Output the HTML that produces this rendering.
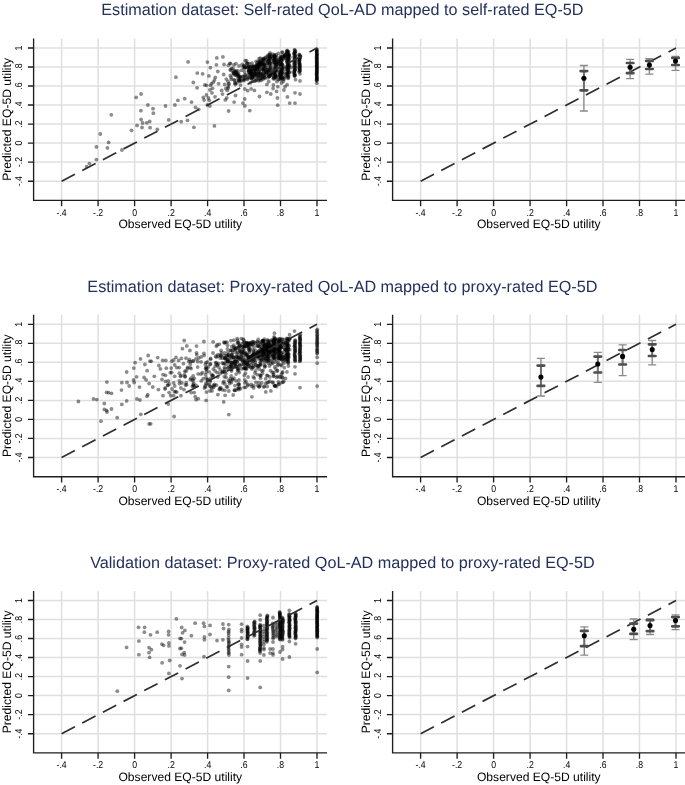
<!DOCTYPE html><html><head><meta charset="utf-8"><style>html,body{margin:0;padding:0;background:#fff;}svg{display:block;}text{font-family:"Liberation Sans",sans-serif;text-rendering:geometricPrecision;}</style></head><body>
<svg width="685" height="785" viewBox="0 0 685 785">
<rect width="685" height="785" fill="#fff"/>
<g style="will-change:transform">
<text x="342.4" y="14.7" font-size="16.2" fill="#25315d" text-anchor="middle">Estimation dataset: Self-rated QoL-AD mapped to self-rated EQ-5D</text>
<path d="M33.6 181.2H327.0M33.6 162.1H327.0M33.6 143.1H327.0M33.6 124.1H327.0M33.6 105.0H327.0M33.6 86.0H327.0M33.6 67.0H327.0M33.6 48.0H327.0M61.6 38.4V200.4M98.1 38.4V200.4M134.6 38.4V200.4M171.1 38.4V200.4M207.6 38.4V200.4M244.0 38.4V200.4M280.5 38.4V200.4M317.0 38.4V200.4" stroke="#dfdfdf" stroke-width="1.5" fill="none"/>
<path d="M33.6 38.4V200.4H327.0" stroke="#1e1e1e" stroke-width="1.35" fill="none"/>
<path d="M27.9 181.2H33.6M61.6 200.4V206.3M27.9 162.1H33.6M98.1 200.4V206.3M27.9 143.1H33.6M134.6 200.4V206.3M27.9 124.1H33.6M171.1 200.4V206.3M27.9 105.0H33.6M207.6 200.4V206.3M27.9 86.0H33.6M244.0 200.4V206.3M27.9 67.0H33.6M280.5 200.4V206.3M27.9 48.0H33.6M317.0 200.4V206.3" stroke="#1e1e1e" stroke-width="1.35" fill="none"/>
<text transform="translate(61.6 215.8) scale(0.87 1)" font-size="10.0" fill="#000" text-anchor="middle">-.4</text>
<text transform="translate(98.1 215.8) scale(0.87 1)" font-size="10.0" fill="#000" text-anchor="middle">-.2</text>
<text transform="translate(134.6 215.8) scale(0.87 1)" font-size="10.0" fill="#000" text-anchor="middle">0</text>
<text transform="translate(171.1 215.8) scale(0.87 1)" font-size="10.0" fill="#000" text-anchor="middle">.2</text>
<text transform="translate(207.6 215.8) scale(0.87 1)" font-size="10.0" fill="#000" text-anchor="middle">.4</text>
<text transform="translate(244.0 215.8) scale(0.87 1)" font-size="10.0" fill="#000" text-anchor="middle">.6</text>
<text transform="translate(280.5 215.8) scale(0.87 1)" font-size="10.0" fill="#000" text-anchor="middle">.8</text>
<text transform="translate(317.0 215.8) scale(0.87 1)" font-size="10.0" fill="#000" text-anchor="middle">1</text>
<text transform="translate(22.0 181.2) rotate(-90) scale(0.87 1)" font-size="10.0" fill="#000" text-anchor="middle">-.4</text>
<text transform="translate(22.0 162.1) rotate(-90) scale(0.87 1)" font-size="10.0" fill="#000" text-anchor="middle">-.2</text>
<text transform="translate(22.0 143.1) rotate(-90) scale(0.87 1)" font-size="10.0" fill="#000" text-anchor="middle">0</text>
<text transform="translate(22.0 124.1) rotate(-90) scale(0.87 1)" font-size="10.0" fill="#000" text-anchor="middle">.2</text>
<text transform="translate(22.0 105.0) rotate(-90) scale(0.87 1)" font-size="10.0" fill="#000" text-anchor="middle">.4</text>
<text transform="translate(22.0 86.0) rotate(-90) scale(0.87 1)" font-size="10.0" fill="#000" text-anchor="middle">.6</text>
<text transform="translate(22.0 67.0) rotate(-90) scale(0.87 1)" font-size="10.0" fill="#000" text-anchor="middle">.8</text>
<text transform="translate(22.0 48.0) rotate(-90) scale(0.87 1)" font-size="10.0" fill="#000" text-anchor="middle">1</text>
<text x="180.3" y="228.2" font-size="12.1" fill="#000" text-anchor="middle">Observed EQ-5D utility</text>
<text transform="translate(10.5 119.4) rotate(-90)" font-size="12.15" fill="#000" text-anchor="middle">Predicted EQ-5D utility</text>
<g fill="#000" fill-opacity="0.45">
<circle cx="188.1" cy="61.9" r="1.9"/><circle cx="197.3" cy="73.1" r="1.9"/><circle cx="175.9" cy="77.2" r="1.9"/><circle cx="193.3" cy="82.5" r="1.9"/><circle cx="197.1" cy="87.8" r="1.9"/><circle cx="141.1" cy="94.0" r="1.9"/><circle cx="136.2" cy="97.4" r="1.9"/><circle cx="177.9" cy="100.3" r="1.9"/><circle cx="184.7" cy="98.7" r="1.9"/><circle cx="191.6" cy="102.1" r="1.9"/><circle cx="147.9" cy="105.0" r="1.9"/><circle cx="165.5" cy="106.0" r="1.9"/><circle cx="174.9" cy="105.0" r="1.9"/><circle cx="153.0" cy="108.7" r="1.9"/><circle cx="195.5" cy="107.4" r="1.9"/><circle cx="140.9" cy="110.7" r="1.9"/><circle cx="153.4" cy="113.2" r="1.9"/><circle cx="111.3" cy="114.8" r="1.9"/><circle cx="141.1" cy="119.5" r="1.9"/><circle cx="168.7" cy="119.9" r="1.9"/><circle cx="142.6" cy="123.0" r="1.9"/><circle cx="146.7" cy="122.8" r="1.9"/><circle cx="149.7" cy="121.5" r="1.9"/><circle cx="181.2" cy="121.7" r="1.9"/><circle cx="187.5" cy="120.3" r="1.9"/><circle cx="137.0" cy="125.4" r="1.9"/><circle cx="142.0" cy="127.5" r="1.9"/><circle cx="150.1" cy="127.7" r="1.9"/><circle cx="157.3" cy="129.3" r="1.9"/><circle cx="193.9" cy="127.3" r="1.9"/><circle cx="131.5" cy="130.3" r="1.9"/><circle cx="100.3" cy="134.0" r="1.9"/><circle cx="108.6" cy="142.4" r="1.9"/><circle cx="96.4" cy="146.9" r="1.9"/><circle cx="107.4" cy="147.9" r="1.9"/><circle cx="121.9" cy="150.0" r="1.9"/><circle cx="96.4" cy="159.6" r="1.9"/><circle cx="89.4" cy="163.6" r="1.9"/><circle cx="86.6" cy="166.7" r="1.9"/><circle cx="216.8" cy="57.9" r="1.9"/><circle cx="222.9" cy="56.9" r="1.9"/><circle cx="207.4" cy="62.1" r="1.9"/><circle cx="216.4" cy="64.8" r="1.9"/><circle cx="224.0" cy="64.5" r="1.9"/><circle cx="228.3" cy="65.3" r="1.9"/><circle cx="210.4" cy="67.7" r="1.9"/><circle cx="202.6" cy="73.8" r="1.9"/><circle cx="217.8" cy="71.5" r="1.9"/><circle cx="208.9" cy="75.9" r="1.9"/><circle cx="215.3" cy="77.4" r="1.9"/><circle cx="214.5" cy="80.1" r="1.9"/><circle cx="213.3" cy="82.2" r="1.9"/><circle cx="211.5" cy="83.7" r="1.9"/><circle cx="223.7" cy="74.5" r="1.9"/><circle cx="226.3" cy="79.1" r="1.9"/><circle cx="204.8" cy="84.9" r="1.9"/><circle cx="206.4" cy="85.3" r="1.9"/><circle cx="210.4" cy="85.3" r="1.9"/><circle cx="218.6" cy="83.7" r="1.9"/><circle cx="224.7" cy="84.5" r="1.9"/><circle cx="212.5" cy="88.3" r="1.9"/><circle cx="209.9" cy="89.9" r="1.9"/><circle cx="212.0" cy="92.9" r="1.9"/><circle cx="221.7" cy="90.4" r="1.9"/><circle cx="225.8" cy="88.6" r="1.9"/><circle cx="228.3" cy="88.0" r="1.9"/><circle cx="227.3" cy="90.4" r="1.9"/><circle cx="222.5" cy="94.1" r="1.9"/><circle cx="206.4" cy="95.0" r="1.9"/><circle cx="203.3" cy="97.5" r="1.9"/><circle cx="208.4" cy="98.0" r="1.9"/><circle cx="204.1" cy="100.1" r="1.9"/><circle cx="209.2" cy="100.3" r="1.9"/><circle cx="215.0" cy="96.8" r="1.9"/><circle cx="225.3" cy="99.9" r="1.9"/><circle cx="226.8" cy="98.0" r="1.9"/><circle cx="235.5" cy="95.5" r="1.9"/><circle cx="234.1" cy="102.1" r="1.9"/><circle cx="244.7" cy="99.0" r="1.9"/><circle cx="242.9" cy="103.1" r="1.9"/><circle cx="244.9" cy="105.9" r="1.9"/><circle cx="198.7" cy="109.3" r="1.9"/><circle cx="209.9" cy="106.0" r="1.9"/><circle cx="228.6" cy="111.0" r="1.9"/><circle cx="249.8" cy="110.6" r="1.9"/><circle cx="259.5" cy="96.5" r="1.9"/><circle cx="244.9" cy="89.0" r="1.9"/><circle cx="247.7" cy="90.7" r="1.9"/><circle cx="251.1" cy="88.8" r="1.9"/><circle cx="254.4" cy="90.4" r="1.9"/><circle cx="245.2" cy="60.7" r="1.9"/><circle cx="266.9" cy="92.3" r="1.9"/><circle cx="270.8" cy="94.0" r="1.9"/><circle cx="273.1" cy="88.5" r="1.9"/><circle cx="276.6" cy="91.4" r="1.9"/><circle cx="277.8" cy="86.7" r="1.9"/><circle cx="277.4" cy="98.0" r="1.9"/><circle cx="277.7" cy="105.2" r="1.9"/><circle cx="283.9" cy="90.0" r="1.9"/><circle cx="285.0" cy="86.7" r="1.9"/><circle cx="287.1" cy="84.7" r="1.9"/><circle cx="287.4" cy="96.9" r="1.9"/><circle cx="289.7" cy="103.1" r="1.9"/><circle cx="295.0" cy="103.1" r="1.9"/><circle cx="295.0" cy="92.8" r="1.9"/><circle cx="300.0" cy="94.0" r="1.9"/><circle cx="300.0" cy="80.9" r="1.9"/><circle cx="300.0" cy="73.9" r="1.9"/><circle cx="295.5" cy="79.7" r="1.9"/><circle cx="266.9" cy="84.4" r="1.9"/><circle cx="268.7" cy="81.5" r="1.9"/><circle cx="273.4" cy="85.0" r="1.9"/><circle cx="276.9" cy="81.5" r="1.9"/><circle cx="281.5" cy="83.0" r="1.9"/><circle cx="283.3" cy="81.5" r="1.9"/><circle cx="316.8" cy="83.2" r="1.9"/><circle cx="214.4" cy="125.9" r="1.9"/><circle cx="207.4" cy="104.9" r="1.9"/><circle cx="316.7" cy="49.1" r="1.9"/><circle cx="316.8" cy="49.7" r="1.9"/><circle cx="316.8" cy="50.4" r="1.9"/><circle cx="316.7" cy="51.1" r="1.9"/><circle cx="316.7" cy="51.7" r="1.9"/><circle cx="316.7" cy="52.1" r="1.9"/><circle cx="316.8" cy="53.1" r="1.9"/><circle cx="316.7" cy="53.4" r="1.9"/><circle cx="316.8" cy="54.4" r="1.9"/><circle cx="316.8" cy="54.7" r="1.9"/><circle cx="316.9" cy="55.1" r="1.9"/><circle cx="316.9" cy="55.9" r="1.9"/><circle cx="316.7" cy="56.4" r="1.9"/><circle cx="316.7" cy="57.4" r="1.9"/><circle cx="316.7" cy="57.9" r="1.9"/><circle cx="316.8" cy="58.3" r="1.9"/><circle cx="316.8" cy="58.8" r="1.9"/><circle cx="316.7" cy="59.5" r="1.9"/><circle cx="316.9" cy="60.2" r="1.9"/><circle cx="316.7" cy="60.9" r="1.9"/><circle cx="316.8" cy="61.3" r="1.9"/><circle cx="316.9" cy="62.2" r="1.9"/><circle cx="316.7" cy="62.7" r="1.9"/><circle cx="316.8" cy="63.5" r="1.9"/><circle cx="316.9" cy="63.8" r="1.9"/><circle cx="316.9" cy="64.3" r="1.9"/><circle cx="316.8" cy="65.3" r="1.9"/><circle cx="316.7" cy="65.7" r="1.9"/><circle cx="316.7" cy="66.4" r="1.9"/><circle cx="316.9" cy="67.0" r="1.9"/><circle cx="316.9" cy="67.4" r="1.9"/><circle cx="316.9" cy="68.2" r="1.9"/><circle cx="316.8" cy="68.7" r="1.9"/><circle cx="316.9" cy="69.6" r="1.9"/><circle cx="316.8" cy="70.1" r="1.9"/><circle cx="316.7" cy="70.7" r="1.9"/><circle cx="316.8" cy="71.5" r="1.9"/><circle cx="316.9" cy="71.7" r="1.9"/><circle cx="316.8" cy="72.5" r="1.9"/><circle cx="316.7" cy="73.0" r="1.9"/><circle cx="316.7" cy="73.4" r="1.9"/><circle cx="316.7" cy="74.4" r="1.9"/><circle cx="316.7" cy="74.7" r="1.9"/><circle cx="316.8" cy="75.7" r="1.9"/><circle cx="316.7" cy="76.0" r="1.9"/><circle cx="316.8" cy="76.9" r="1.9"/><circle cx="316.9" cy="77.5" r="1.9"/><circle cx="316.7" cy="77.8" r="1.9"/><circle cx="316.8" cy="78.7" r="1.9"/><circle cx="316.9" cy="78.9" r="1.9"/><circle cx="316.7" cy="79.5" r="1.9"/><circle cx="316.7" cy="80.3" r="1.9"/><circle cx="316.8" cy="80.8" r="1.9"/><circle cx="299.1" cy="54.3" r="1.9"/><circle cx="299.5" cy="54.9" r="1.9"/><circle cx="300.2" cy="55.6" r="1.9"/><circle cx="299.7" cy="56.2" r="1.9"/><circle cx="299.9" cy="56.5" r="1.9"/><circle cx="300.2" cy="57.5" r="1.9"/><circle cx="300.1" cy="58.1" r="1.9"/><circle cx="299.6" cy="58.5" r="1.9"/><circle cx="299.2" cy="59.2" r="1.9"/><circle cx="299.2" cy="59.5" r="1.9"/><circle cx="299.4" cy="60.2" r="1.9"/><circle cx="299.5" cy="60.7" r="1.9"/><circle cx="299.1" cy="61.4" r="1.9"/><circle cx="299.2" cy="62.1" r="1.9"/><circle cx="299.1" cy="63.0" r="1.9"/><circle cx="299.8" cy="63.2" r="1.9"/><circle cx="299.4" cy="63.9" r="1.9"/><circle cx="299.5" cy="64.4" r="1.9"/><circle cx="300.1" cy="65.5" r="1.9"/><circle cx="299.7" cy="65.8" r="1.9"/><circle cx="299.2" cy="66.2" r="1.9"/><circle cx="299.5" cy="66.9" r="1.9"/><circle cx="300.1" cy="67.4" r="1.9"/><circle cx="299.1" cy="68.5" r="1.9"/><circle cx="299.7" cy="68.7" r="1.9"/><circle cx="299.8" cy="69.2" r="1.9"/><circle cx="299.7" cy="70.4" r="1.9"/><circle cx="300.1" cy="70.8" r="1.9"/><circle cx="299.4" cy="71.2" r="1.9"/><circle cx="299.3" cy="72.1" r="1.9"/><circle cx="294.8" cy="49.9" r="1.9"/><circle cx="294.4" cy="50.1" r="1.9"/><circle cx="295.2" cy="51.2" r="1.9"/><circle cx="295.3" cy="51.7" r="1.9"/><circle cx="295.2" cy="52.3" r="1.9"/><circle cx="294.3" cy="52.8" r="1.9"/><circle cx="294.5" cy="53.1" r="1.9"/><circle cx="293.9" cy="53.8" r="1.9"/><circle cx="294.3" cy="54.7" r="1.9"/><circle cx="295.4" cy="55.2" r="1.9"/><circle cx="295.4" cy="56.1" r="1.9"/><circle cx="295.4" cy="56.3" r="1.9"/><circle cx="294.3" cy="56.8" r="1.9"/><circle cx="294.2" cy="57.4" r="1.9"/><circle cx="294.9" cy="58.5" r="1.9"/><circle cx="295.2" cy="58.8" r="1.9"/><circle cx="294.9" cy="59.6" r="1.9"/><circle cx="294.0" cy="60.2" r="1.9"/><circle cx="295.4" cy="60.8" r="1.9"/><circle cx="295.1" cy="61.3" r="1.9"/><circle cx="294.2" cy="62.1" r="1.9"/><circle cx="294.4" cy="62.7" r="1.9"/><circle cx="295.5" cy="63.0" r="1.9"/><circle cx="294.5" cy="64.0" r="1.9"/><circle cx="295.1" cy="64.1" r="1.9"/><circle cx="294.1" cy="64.7" r="1.9"/><circle cx="295.3" cy="65.7" r="1.9"/><circle cx="294.1" cy="66.3" r="1.9"/><circle cx="295.5" cy="66.8" r="1.9"/><circle cx="294.5" cy="67.4" r="1.9"/><circle cx="294.1" cy="67.7" r="1.9"/><circle cx="295.5" cy="68.7" r="1.9"/><circle cx="294.7" cy="69.5" r="1.9"/><circle cx="294.6" cy="70.0" r="1.9"/><circle cx="295.2" cy="70.2" r="1.9"/><circle cx="294.3" cy="70.9" r="1.9"/><circle cx="294.3" cy="71.7" r="1.9"/><circle cx="294.3" cy="72.2" r="1.9"/><circle cx="294.1" cy="73.1" r="1.9"/><circle cx="294.5" cy="73.4" r="1.9"/><circle cx="294.8" cy="74.3" r="1.9"/><circle cx="294.6" cy="74.9" r="1.9"/><circle cx="294.7" cy="75.3" r="1.9"/><circle cx="294.7" cy="75.6" r="1.9"/><circle cx="294.6" cy="76.3" r="1.9"/><circle cx="287.1" cy="50.5" r="1.9"/><circle cx="287.4" cy="50.9" r="1.9"/><circle cx="288.6" cy="51.6" r="1.9"/><circle cx="287.8" cy="52.1" r="1.9"/><circle cx="288.2" cy="52.9" r="1.9"/><circle cx="287.3" cy="53.4" r="1.9"/><circle cx="287.6" cy="53.8" r="1.9"/><circle cx="288.6" cy="54.6" r="1.9"/><circle cx="288.2" cy="55.3" r="1.9"/><circle cx="288.9" cy="55.7" r="1.9"/><circle cx="288.3" cy="56.4" r="1.9"/><circle cx="288.1" cy="57.1" r="1.9"/><circle cx="288.0" cy="57.6" r="1.9"/><circle cx="288.1" cy="58.5" r="1.9"/><circle cx="288.5" cy="59.1" r="1.9"/><circle cx="289.0" cy="59.3" r="1.9"/><circle cx="288.2" cy="60.3" r="1.9"/><circle cx="288.8" cy="60.4" r="1.9"/><circle cx="287.3" cy="61.2" r="1.9"/><circle cx="287.2" cy="61.7" r="1.9"/><circle cx="287.2" cy="62.6" r="1.9"/><circle cx="288.7" cy="63.3" r="1.9"/><circle cx="287.4" cy="63.8" r="1.9"/><circle cx="288.4" cy="64.1" r="1.9"/><circle cx="288.9" cy="65.2" r="1.9"/><circle cx="287.5" cy="65.8" r="1.9"/><circle cx="287.9" cy="66.1" r="1.9"/><circle cx="289.1" cy="66.9" r="1.9"/><circle cx="287.4" cy="67.3" r="1.9"/><circle cx="288.1" cy="67.9" r="1.9"/><circle cx="287.5" cy="68.5" r="1.9"/><circle cx="288.5" cy="68.9" r="1.9"/><circle cx="288.2" cy="69.7" r="1.9"/><circle cx="287.1" cy="70.3" r="1.9"/><circle cx="288.3" cy="71.0" r="1.9"/><circle cx="287.2" cy="71.9" r="1.9"/><circle cx="288.7" cy="72.5" r="1.9"/><circle cx="287.3" cy="72.7" r="1.9"/><circle cx="287.2" cy="73.6" r="1.9"/><circle cx="287.6" cy="73.8" r="1.9"/><circle cx="287.9" cy="74.9" r="1.9"/><circle cx="288.7" cy="75.1" r="1.9"/><circle cx="287.4" cy="76.1" r="1.9"/><circle cx="288.2" cy="76.6" r="1.9"/><circle cx="287.3" cy="76.8" r="1.9"/><circle cx="288.5" cy="77.7" r="1.9"/><circle cx="280.4" cy="56.4" r="1.9"/><circle cx="281.7" cy="57.0" r="1.9"/><circle cx="280.4" cy="57.7" r="1.9"/><circle cx="280.4" cy="58.5" r="1.9"/><circle cx="281.3" cy="58.9" r="1.9"/><circle cx="281.5" cy="59.9" r="1.9"/><circle cx="280.8" cy="60.2" r="1.9"/><circle cx="281.5" cy="60.9" r="1.9"/><circle cx="280.5" cy="61.6" r="1.9"/><circle cx="280.3" cy="62.3" r="1.9"/><circle cx="280.9" cy="63.1" r="1.9"/><circle cx="282.0" cy="63.8" r="1.9"/><circle cx="281.4" cy="64.5" r="1.9"/><circle cx="281.0" cy="65.1" r="1.9"/><circle cx="280.8" cy="65.8" r="1.9"/><circle cx="282.0" cy="66.8" r="1.9"/><circle cx="280.7" cy="67.5" r="1.9"/><circle cx="282.4" cy="68.0" r="1.9"/><circle cx="282.2" cy="68.9" r="1.9"/><circle cx="281.4" cy="69.8" r="1.9"/><circle cx="281.1" cy="70.4" r="1.9"/><circle cx="281.9" cy="71.4" r="1.9"/><circle cx="281.0" cy="72.0" r="1.9"/><circle cx="281.9" cy="72.6" r="1.9"/><circle cx="281.2" cy="73.1" r="1.9"/><circle cx="280.3" cy="73.7" r="1.9"/><circle cx="280.4" cy="74.8" r="1.9"/><circle cx="280.8" cy="75.1" r="1.9"/><circle cx="280.4" cy="76.3" r="1.9"/><circle cx="282.3" cy="76.9" r="1.9"/><circle cx="280.9" cy="77.3" r="1.9"/><circle cx="280.9" cy="78.2" r="1.9"/><circle cx="280.6" cy="78.9" r="1.9"/><circle cx="274.6" cy="54.6" r="1.9"/><circle cx="276.3" cy="55.0" r="1.9"/><circle cx="274.6" cy="56.0" r="1.9"/><circle cx="274.7" cy="56.3" r="1.9"/><circle cx="274.0" cy="57.0" r="1.9"/><circle cx="275.1" cy="57.8" r="1.9"/><circle cx="274.5" cy="58.5" r="1.9"/><circle cx="274.0" cy="59.1" r="1.9"/><circle cx="274.2" cy="59.9" r="1.9"/><circle cx="274.1" cy="60.3" r="1.9"/><circle cx="274.7" cy="61.2" r="1.9"/><circle cx="275.4" cy="62.0" r="1.9"/><circle cx="275.8" cy="62.8" r="1.9"/><circle cx="275.7" cy="63.7" r="1.9"/><circle cx="274.9" cy="64.0" r="1.9"/><circle cx="276.4" cy="64.6" r="1.9"/><circle cx="275.7" cy="65.6" r="1.9"/><circle cx="274.1" cy="66.4" r="1.9"/><circle cx="276.1" cy="67.0" r="1.9"/><circle cx="275.8" cy="67.8" r="1.9"/><circle cx="274.3" cy="68.4" r="1.9"/><circle cx="275.2" cy="69.3" r="1.9"/><circle cx="275.9" cy="70.0" r="1.9"/><circle cx="275.4" cy="70.7" r="1.9"/><circle cx="275.6" cy="71.3" r="1.9"/><circle cx="274.6" cy="71.6" r="1.9"/><circle cx="274.3" cy="72.5" r="1.9"/><circle cx="274.3" cy="73.5" r="1.9"/><circle cx="275.3" cy="74.1" r="1.9"/><circle cx="275.5" cy="74.8" r="1.9"/><circle cx="275.2" cy="75.1" r="1.9"/><circle cx="275.9" cy="76.2" r="1.9"/><circle cx="275.2" cy="76.8" r="1.9"/><circle cx="275.6" cy="77.2" r="1.9"/><circle cx="275.8" cy="78.0" r="1.9"/><circle cx="274.2" cy="78.8" r="1.9"/><circle cx="270.0" cy="53.0" r="1.9"/><circle cx="270.1" cy="54.4" r="1.9"/><circle cx="269.4" cy="54.9" r="1.9"/><circle cx="269.3" cy="56.0" r="1.9"/><circle cx="270.1" cy="56.9" r="1.9"/><circle cx="269.8" cy="57.5" r="1.9"/><circle cx="268.4" cy="58.5" r="1.9"/><circle cx="270.1" cy="59.4" r="1.9"/><circle cx="269.6" cy="60.2" r="1.9"/><circle cx="268.2" cy="61.2" r="1.9"/><circle cx="269.9" cy="62.4" r="1.9"/><circle cx="269.9" cy="63.1" r="1.9"/><circle cx="269.4" cy="64.1" r="1.9"/><circle cx="269.3" cy="64.8" r="1.9"/><circle cx="270.5" cy="65.7" r="1.9"/><circle cx="270.7" cy="67.1" r="1.9"/><circle cx="268.0" cy="67.7" r="1.9"/><circle cx="270.3" cy="68.9" r="1.9"/><circle cx="269.3" cy="69.4" r="1.9"/><circle cx="268.6" cy="70.7" r="1.9"/><circle cx="268.6" cy="71.4" r="1.9"/><circle cx="268.4" cy="72.3" r="1.9"/><circle cx="270.7" cy="72.9" r="1.9"/><circle cx="270.3" cy="74.1" r="1.9"/><circle cx="270.5" cy="75.1" r="1.9"/><circle cx="268.6" cy="76.1" r="1.9"/><circle cx="269.4" cy="76.5" r="1.9"/><circle cx="268.0" cy="77.7" r="1.9"/><circle cx="263.3" cy="60.1" r="1.9"/><circle cx="262.4" cy="61.6" r="1.9"/><circle cx="262.9" cy="63.3" r="1.9"/><circle cx="261.9" cy="64.7" r="1.9"/><circle cx="264.6" cy="65.8" r="1.9"/><circle cx="264.9" cy="67.6" r="1.9"/><circle cx="264.8" cy="68.8" r="1.9"/><circle cx="263.1" cy="70.3" r="1.9"/><circle cx="265.1" cy="71.9" r="1.9"/><circle cx="263.1" cy="73.3" r="1.9"/><circle cx="262.8" cy="74.5" r="1.9"/><circle cx="262.2" cy="76.4" r="1.9"/><circle cx="262.8" cy="78.0" r="1.9"/><circle cx="234.0" cy="73.7" r="1.9"/><circle cx="236.1" cy="72.7" r="1.9"/><circle cx="235.0" cy="83.4" r="1.9"/><circle cx="239.1" cy="81.4" r="1.9"/><circle cx="237.0" cy="82.8" r="1.9"/><circle cx="239.5" cy="77.7" r="1.9"/><circle cx="237.9" cy="76.3" r="1.9"/><circle cx="238.0" cy="79.0" r="1.9"/><circle cx="234.3" cy="70.7" r="1.9"/><circle cx="235.8" cy="74.8" r="1.9"/><circle cx="234.4" cy="80.3" r="1.9"/><circle cx="237.2" cy="74.2" r="1.9"/><circle cx="236.5" cy="75.5" r="1.9"/><circle cx="233.3" cy="72.3" r="1.9"/><circle cx="236.0" cy="73.1" r="1.9"/><circle cx="235.6" cy="72.0" r="1.9"/><circle cx="234.7" cy="71.3" r="1.9"/><circle cx="233.9" cy="73.6" r="1.9"/><circle cx="251.8" cy="77.2" r="1.9"/><circle cx="253.7" cy="69.6" r="1.9"/><circle cx="250.1" cy="71.4" r="1.9"/><circle cx="249.6" cy="68.4" r="1.9"/><circle cx="246.2" cy="67.4" r="1.9"/><circle cx="251.0" cy="73.1" r="1.9"/><circle cx="255.0" cy="66.5" r="1.9"/><circle cx="248.5" cy="67.0" r="1.9"/><circle cx="249.9" cy="70.1" r="1.9"/><circle cx="255.4" cy="70.6" r="1.9"/><circle cx="249.8" cy="77.8" r="1.9"/><circle cx="254.6" cy="76.7" r="1.9"/><circle cx="251.2" cy="73.9" r="1.9"/><circle cx="255.9" cy="74.5" r="1.9"/><circle cx="252.6" cy="75.2" r="1.9"/><circle cx="250.5" cy="71.8" r="1.9"/><circle cx="248.1" cy="77.7" r="1.9"/><circle cx="252.6" cy="67.9" r="1.9"/><circle cx="246.9" cy="67.0" r="1.9"/><circle cx="252.5" cy="74.2" r="1.9"/><circle cx="251.3" cy="72.3" r="1.9"/><circle cx="249.8" cy="66.6" r="1.9"/><circle cx="252.1" cy="63.2" r="1.9"/><circle cx="248.8" cy="70.4" r="1.9"/><circle cx="256.0" cy="73.3" r="1.9"/><circle cx="255.2" cy="70.6" r="1.9"/><circle cx="248.1" cy="67.0" r="1.9"/><circle cx="251.0" cy="73.8" r="1.9"/><circle cx="250.1" cy="67.1" r="1.9"/><circle cx="252.8" cy="77.8" r="1.9"/><circle cx="249.2" cy="69.7" r="1.9"/><circle cx="253.0" cy="66.2" r="1.9"/><circle cx="254.3" cy="74.8" r="1.9"/><circle cx="251.1" cy="66.3" r="1.9"/><circle cx="254.5" cy="66.7" r="1.9"/><circle cx="258.7" cy="72.2" r="1.9"/><circle cx="259.5" cy="76.0" r="1.9"/><circle cx="261.9" cy="60.7" r="1.9"/><circle cx="258.7" cy="65.3" r="1.9"/><circle cx="264.0" cy="76.0" r="1.9"/><circle cx="257.8" cy="64.9" r="1.9"/><circle cx="256.7" cy="64.9" r="1.9"/><circle cx="267.2" cy="63.6" r="1.9"/><circle cx="264.0" cy="64.6" r="1.9"/><circle cx="260.5" cy="63.6" r="1.9"/><circle cx="259.4" cy="64.0" r="1.9"/><circle cx="260.3" cy="73.4" r="1.9"/><circle cx="265.9" cy="65.6" r="1.9"/><circle cx="256.6" cy="66.5" r="1.9"/><circle cx="260.5" cy="75.4" r="1.9"/><circle cx="258.3" cy="64.3" r="1.9"/><circle cx="260.9" cy="73.2" r="1.9"/><circle cx="267.0" cy="62.1" r="1.9"/><circle cx="265.0" cy="75.0" r="1.9"/><circle cx="260.1" cy="62.4" r="1.9"/><circle cx="267.5" cy="69.3" r="1.9"/><circle cx="259.1" cy="71.3" r="1.9"/><circle cx="259.8" cy="62.5" r="1.9"/><circle cx="267.0" cy="69.7" r="1.9"/><circle cx="258.8" cy="66.5" r="1.9"/><circle cx="260.6" cy="62.0" r="1.9"/><circle cx="261.2" cy="66.9" r="1.9"/><circle cx="265.6" cy="71.8" r="1.9"/><circle cx="265.9" cy="72.5" r="1.9"/><circle cx="263.3" cy="63.6" r="1.9"/><circle cx="259.8" cy="64.2" r="1.9"/><circle cx="258.4" cy="72.1" r="1.9"/><circle cx="256.4" cy="68.1" r="1.9"/><circle cx="259.2" cy="58.7" r="1.9"/><circle cx="257.2" cy="67.0" r="1.9"/><circle cx="264.5" cy="65.9" r="1.9"/><circle cx="258.8" cy="65.3" r="1.9"/><circle cx="263.4" cy="70.5" r="1.9"/><circle cx="265.0" cy="73.9" r="1.9"/><circle cx="264.0" cy="59.4" r="1.9"/><circle cx="252.9" cy="66.2" r="1.9"/><circle cx="244.1" cy="68.4" r="1.9"/><circle cx="249.6" cy="63.6" r="1.9"/><circle cx="233.9" cy="64.9" r="1.9"/><circle cx="244.5" cy="67.1" r="1.9"/><circle cx="242.2" cy="64.5" r="1.9"/><circle cx="251.9" cy="76.3" r="1.9"/><circle cx="241.2" cy="80.9" r="1.9"/><circle cx="229.8" cy="63.3" r="1.9"/><circle cx="257.1" cy="74.3" r="1.9"/><circle cx="255.8" cy="68.4" r="1.9"/><circle cx="253.7" cy="70.6" r="1.9"/><circle cx="234.3" cy="79.8" r="1.9"/><circle cx="245.1" cy="75.4" r="1.9"/><circle cx="233.0" cy="68.3" r="1.9"/><circle cx="230.5" cy="63.7" r="1.9"/><circle cx="234.2" cy="74.8" r="1.9"/><circle cx="246.9" cy="63.7" r="1.9"/><circle cx="247.7" cy="63.2" r="1.9"/><circle cx="236.0" cy="63.7" r="1.9"/><circle cx="251.4" cy="73.3" r="1.9"/><circle cx="238.6" cy="73.4" r="1.9"/><circle cx="246.5" cy="60.6" r="1.9"/><circle cx="231.2" cy="77.5" r="1.9"/><circle cx="239.1" cy="65.9" r="1.9"/><circle cx="254.2" cy="81.3" r="1.9"/><circle cx="254.2" cy="75.1" r="1.9"/><circle cx="255.1" cy="72.7" r="1.9"/><circle cx="255.3" cy="69.2" r="1.9"/><circle cx="262.6" cy="69.3" r="1.9"/><circle cx="256.5" cy="79.1" r="1.9"/><circle cx="256.1" cy="80.1" r="1.9"/><circle cx="257.2" cy="68.6" r="1.9"/><circle cx="248.3" cy="74.8" r="1.9"/><circle cx="260.8" cy="80.6" r="1.9"/><circle cx="249.8" cy="76.0" r="1.9"/><circle cx="255.4" cy="74.1" r="1.9"/><circle cx="250.9" cy="70.5" r="1.9"/><circle cx="258.4" cy="80.8" r="1.9"/><circle cx="250.2" cy="73.8" r="1.9"/><circle cx="284.2" cy="79.0" r="1.9"/><circle cx="288.4" cy="62.2" r="1.9"/><circle cx="287.6" cy="69.0" r="1.9"/><circle cx="284.9" cy="55.6" r="1.9"/><circle cx="283.5" cy="57.4" r="1.9"/><circle cx="270.2" cy="75.5" r="1.9"/><circle cx="285.0" cy="56.3" r="1.9"/><circle cx="263.6" cy="62.6" r="1.9"/><circle cx="274.1" cy="62.1" r="1.9"/><circle cx="260.3" cy="58.2" r="1.9"/><circle cx="281.4" cy="77.0" r="1.9"/><circle cx="257.4" cy="67.3" r="1.9"/><circle cx="282.5" cy="52.1" r="1.9"/><circle cx="285.3" cy="54.4" r="1.9"/><circle cx="277.0" cy="67.0" r="1.9"/><circle cx="277.9" cy="59.9" r="1.9"/><circle cx="270.7" cy="67.9" r="1.9"/><circle cx="270.9" cy="70.1" r="1.9"/><circle cx="271.6" cy="63.7" r="1.9"/><circle cx="256.8" cy="68.9" r="1.9"/><circle cx="273.1" cy="57.8" r="1.9"/><circle cx="282.7" cy="73.6" r="1.9"/><circle cx="272.0" cy="56.2" r="1.9"/><circle cx="272.6" cy="54.1" r="1.9"/><circle cx="260.5" cy="63.5" r="1.9"/><circle cx="259.2" cy="63.8" r="1.9"/><circle cx="278.3" cy="53.4" r="1.9"/><circle cx="281.7" cy="73.6" r="1.9"/><circle cx="273.6" cy="62.0" r="1.9"/><circle cx="289.3" cy="54.9" r="1.9"/><circle cx="281.6" cy="74.6" r="1.9"/><circle cx="262.8" cy="79.5" r="1.9"/><circle cx="273.2" cy="78.7" r="1.9"/><circle cx="288.1" cy="55.8" r="1.9"/><circle cx="283.6" cy="78.0" r="1.9"/><circle cx="258.3" cy="61.2" r="1.9"/><circle cx="282.5" cy="55.6" r="1.9"/><circle cx="287.4" cy="59.0" r="1.9"/><circle cx="284.5" cy="55.2" r="1.9"/><circle cx="273.6" cy="77.7" r="1.9"/><circle cx="263.3" cy="58.6" r="1.9"/><circle cx="273.7" cy="60.3" r="1.9"/><circle cx="261.6" cy="78.2" r="1.9"/><circle cx="279.8" cy="77.0" r="1.9"/><circle cx="261.9" cy="73.8" r="1.9"/><circle cx="260.0" cy="66.4" r="1.9"/><circle cx="278.3" cy="61.4" r="1.9"/><circle cx="286.6" cy="67.1" r="1.9"/><circle cx="276.3" cy="76.6" r="1.9"/><circle cx="259.7" cy="79.8" r="1.9"/><circle cx="278.0" cy="62.4" r="1.9"/><circle cx="283.9" cy="58.7" r="1.9"/><circle cx="290.7" cy="67.7" r="1.9"/><circle cx="268.6" cy="73.2" r="1.9"/><circle cx="271.5" cy="56.1" r="1.9"/><circle cx="282.0" cy="52.4" r="1.9"/><circle cx="284.7" cy="58.4" r="1.9"/><circle cx="278.4" cy="79.5" r="1.9"/><circle cx="276.5" cy="70.2" r="1.9"/><circle cx="277.6" cy="63.5" r="1.9"/><circle cx="273.9" cy="77.0" r="1.9"/><circle cx="256.1" cy="61.3" r="1.9"/><circle cx="259.7" cy="61.4" r="1.9"/><circle cx="263.8" cy="67.9" r="1.9"/><circle cx="276.6" cy="56.9" r="1.9"/><circle cx="277.8" cy="64.8" r="1.9"/><circle cx="260.7" cy="78.2" r="1.9"/><circle cx="259.4" cy="69.5" r="1.9"/><circle cx="286.5" cy="73.7" r="1.9"/><circle cx="270.1" cy="58.7" r="1.9"/><circle cx="256.4" cy="69.7" r="1.9"/><circle cx="275.7" cy="61.2" r="1.9"/><circle cx="278.6" cy="63.9" r="1.9"/><circle cx="288.8" cy="72.3" r="1.9"/><circle cx="264.7" cy="77.2" r="1.9"/><circle cx="257.5" cy="66.4" r="1.9"/><circle cx="270.2" cy="57.9" r="1.9"/><circle cx="258.0" cy="73.6" r="1.9"/><circle cx="256.4" cy="67.0" r="1.9"/><circle cx="288.9" cy="55.1" r="1.9"/><circle cx="263.0" cy="68.6" r="1.9"/><circle cx="273.7" cy="69.6" r="1.9"/><circle cx="284.5" cy="56.1" r="1.9"/><circle cx="266.8" cy="59.7" r="1.9"/><circle cx="257.7" cy="76.8" r="1.9"/><circle cx="283.4" cy="71.7" r="1.9"/><circle cx="256.2" cy="75.5" r="1.9"/><circle cx="282.1" cy="64.5" r="1.9"/><circle cx="282.0" cy="64.1" r="1.9"/><circle cx="267.7" cy="72.7" r="1.9"/><circle cx="280.3" cy="75.5" r="1.9"/><circle cx="280.9" cy="58.7" r="1.9"/><circle cx="275.4" cy="63.6" r="1.9"/><circle cx="283.6" cy="66.2" r="1.9"/><circle cx="265.3" cy="69.6" r="1.9"/><circle cx="289.8" cy="57.3" r="1.9"/><circle cx="286.8" cy="51.4" r="1.9"/><circle cx="265.1" cy="57.8" r="1.9"/><circle cx="282.0" cy="78.4" r="1.9"/><circle cx="282.1" cy="60.5" r="1.9"/><circle cx="286.8" cy="60.5" r="1.9"/><circle cx="264.4" cy="77.3" r="1.9"/><circle cx="278.1" cy="71.1" r="1.9"/><circle cx="279.3" cy="79.4" r="1.9"/><circle cx="272.4" cy="75.4" r="1.9"/><circle cx="280.4" cy="75.9" r="1.9"/><circle cx="271.3" cy="72.0" r="1.9"/><circle cx="276.0" cy="59.9" r="1.9"/><circle cx="263.4" cy="69.1" r="1.9"/><circle cx="258.7" cy="77.4" r="1.9"/><circle cx="259.7" cy="77.9" r="1.9"/><circle cx="268.1" cy="55.1" r="1.9"/><circle cx="280.2" cy="69.4" r="1.9"/><circle cx="280.4" cy="72.4" r="1.9"/><circle cx="258.3" cy="68.1" r="1.9"/><circle cx="268.7" cy="74.7" r="1.9"/><circle cx="284.7" cy="76.8" r="1.9"/><circle cx="258.3" cy="76.2" r="1.9"/><circle cx="288.0" cy="78.4" r="1.9"/><circle cx="285.7" cy="74.5" r="1.9"/><circle cx="278.2" cy="74.9" r="1.9"/><circle cx="278.1" cy="59.3" r="1.9"/><circle cx="282.5" cy="56.9" r="1.9"/><circle cx="267.2" cy="63.3" r="1.9"/><circle cx="265.9" cy="71.8" r="1.9"/><circle cx="268.9" cy="60.3" r="1.9"/><circle cx="289.7" cy="65.6" r="1.9"/><circle cx="285.8" cy="68.9" r="1.9"/><circle cx="257.1" cy="63.0" r="1.9"/><circle cx="271.3" cy="73.4" r="1.9"/><circle cx="268.1" cy="71.4" r="1.9"/><circle cx="274.8" cy="57.3" r="1.9"/><circle cx="286.2" cy="53.6" r="1.9"/><circle cx="284.7" cy="55.9" r="1.9"/><circle cx="282.7" cy="79.4" r="1.9"/><circle cx="256.2" cy="65.2" r="1.9"/><circle cx="273.2" cy="74.1" r="1.9"/><circle cx="262.5" cy="65.3" r="1.9"/><circle cx="268.2" cy="75.1" r="1.9"/><circle cx="265.1" cy="78.4" r="1.9"/><circle cx="265.9" cy="57.2" r="1.9"/><circle cx="280.5" cy="65.5" r="1.9"/><circle cx="259.8" cy="69.5" r="1.9"/><circle cx="258.8" cy="73.8" r="1.9"/><circle cx="280.4" cy="73.8" r="1.9"/><circle cx="278.0" cy="61.3" r="1.9"/><circle cx="270.0" cy="62.4" r="1.9"/><circle cx="287.2" cy="53.5" r="1.9"/><circle cx="287.1" cy="51.7" r="1.9"/><circle cx="263.2" cy="58.6" r="1.9"/><circle cx="287.5" cy="65.5" r="1.9"/><circle cx="269.3" cy="76.6" r="1.9"/><circle cx="264.2" cy="64.4" r="1.9"/><circle cx="274.6" cy="72.9" r="1.9"/><circle cx="282.4" cy="69.7" r="1.9"/><circle cx="268.2" cy="60.5" r="1.9"/><circle cx="261.4" cy="75.5" r="1.9"/><circle cx="279.2" cy="72.5" r="1.9"/><circle cx="261.9" cy="63.7" r="1.9"/><circle cx="283.1" cy="67.8" r="1.9"/><circle cx="260.4" cy="64.4" r="1.9"/><circle cx="287.0" cy="57.9" r="1.9"/><circle cx="262.7" cy="59.7" r="1.9"/><circle cx="280.6" cy="75.5" r="1.9"/><circle cx="264.7" cy="60.5" r="1.9"/><circle cx="274.3" cy="55.7" r="1.9"/><circle cx="267.5" cy="56.5" r="1.9"/><circle cx="290.1" cy="72.1" r="1.9"/><circle cx="259.6" cy="78.9" r="1.9"/><circle cx="259.6" cy="62.1" r="1.9"/><circle cx="255.7" cy="80.7" r="1.9"/><circle cx="250.7" cy="71.3" r="1.9"/><circle cx="239.9" cy="76.6" r="1.9"/><circle cx="244.0" cy="80.6" r="1.9"/><circle cx="249.9" cy="73.0" r="1.9"/><circle cx="248.6" cy="72.0" r="1.9"/><circle cx="238.8" cy="75.7" r="1.9"/><circle cx="244.1" cy="79.3" r="1.9"/><circle cx="254.2" cy="71.2" r="1.9"/><circle cx="247.5" cy="79.5" r="1.9"/><circle cx="244.4" cy="65.9" r="1.9"/><circle cx="250.4" cy="82.9" r="1.9"/><circle cx="251.5" cy="78.2" r="1.9"/><circle cx="253.0" cy="77.7" r="1.9"/><circle cx="248.8" cy="71.8" r="1.9"/><circle cx="242.3" cy="76.3" r="1.9"/><circle cx="238.0" cy="70.9" r="1.9"/><circle cx="251.6" cy="78.5" r="1.9"/><circle cx="248.6" cy="66.5" r="1.9"/><circle cx="244.5" cy="71.8" r="1.9"/><circle cx="248.4" cy="70.6" r="1.9"/><circle cx="239.7" cy="77.0" r="1.9"/><circle cx="251.6" cy="70.1" r="1.9"/><circle cx="236.8" cy="74.1" r="1.9"/><circle cx="239.2" cy="80.3" r="1.9"/><circle cx="254.8" cy="73.5" r="1.9"/><circle cx="238.0" cy="74.9" r="1.9"/><circle cx="246.8" cy="78.6" r="1.9"/><circle cx="246.2" cy="76.6" r="1.9"/><circle cx="252.6" cy="73.6" r="1.9"/><circle cx="240.2" cy="77.8" r="1.9"/><circle cx="243.8" cy="79.8" r="1.9"/><circle cx="241.5" cy="70.4" r="1.9"/><circle cx="236.3" cy="70.9" r="1.9"/><circle cx="244.4" cy="78.2" r="1.9"/><circle cx="243.0" cy="66.9" r="1.9"/><circle cx="240.5" cy="79.3" r="1.9"/><circle cx="254.8" cy="73.7" r="1.9"/><circle cx="240.4" cy="80.8" r="1.9"/><circle cx="243.8" cy="65.5" r="1.9"/><circle cx="238.6" cy="80.2" r="1.9"/><circle cx="252.2" cy="76.5" r="1.9"/><circle cx="245.4" cy="74.6" r="1.9"/><circle cx="240.5" cy="85.1" r="1.9"/><circle cx="243.1" cy="76.6" r="1.9"/><circle cx="252.4" cy="81.2" r="1.9"/><circle cx="245.4" cy="67.7" r="1.9"/><circle cx="247.0" cy="63.3" r="1.9"/><circle cx="252.7" cy="69.2" r="1.9"/><circle cx="253.0" cy="67.0" r="1.9"/><circle cx="231.0" cy="70.1" r="1.9"/><circle cx="231.4" cy="68.5" r="1.9"/><circle cx="228.0" cy="81.3" r="1.9"/><circle cx="230.2" cy="69.9" r="1.9"/><circle cx="230.4" cy="75.5" r="1.9"/><circle cx="231.4" cy="79.3" r="1.9"/><circle cx="233.3" cy="72.7" r="1.9"/><circle cx="235.4" cy="84.5" r="1.9"/><circle cx="228.5" cy="83.9" r="1.9"/><circle cx="235.2" cy="82.8" r="1.9"/><circle cx="229.1" cy="84.0" r="1.9"/><circle cx="228.1" cy="86.8" r="1.9"/>
</g>
<path d="M61.6 181.2L317.0 48.0" stroke="#2e2e2e" stroke-width="1.7" stroke-dasharray="15 8.3" fill="none"/>
<path d="M392.6 181.2H685.0M392.6 162.1H685.0M392.6 143.1H685.0M392.6 124.1H685.0M392.6 105.0H685.0M392.6 86.0H685.0M392.6 67.0H685.0M392.6 48.0H685.0M420.6 38.4V200.4M457.1 38.4V200.4M493.6 38.4V200.4M530.1 38.4V200.4M566.6 38.4V200.4M603.0 38.4V200.4M639.5 38.4V200.4M676.0 38.4V200.4" stroke="#dfdfdf" stroke-width="1.5" fill="none"/>
<path d="M392.6 38.4V200.4H685.0" stroke="#1e1e1e" stroke-width="1.35" fill="none"/>
<path d="M386.9 181.2H392.6M420.6 200.4V206.3M386.9 162.1H392.6M457.1 200.4V206.3M386.9 143.1H392.6M493.6 200.4V206.3M386.9 124.1H392.6M530.1 200.4V206.3M386.9 105.0H392.6M566.6 200.4V206.3M386.9 86.0H392.6M603.0 200.4V206.3M386.9 67.0H392.6M639.5 200.4V206.3M386.9 48.0H392.6M676.0 200.4V206.3" stroke="#1e1e1e" stroke-width="1.35" fill="none"/>
<text transform="translate(420.6 215.8) scale(0.87 1)" font-size="10.0" fill="#000" text-anchor="middle">-.4</text>
<text transform="translate(457.1 215.8) scale(0.87 1)" font-size="10.0" fill="#000" text-anchor="middle">-.2</text>
<text transform="translate(493.6 215.8) scale(0.87 1)" font-size="10.0" fill="#000" text-anchor="middle">0</text>
<text transform="translate(530.1 215.8) scale(0.87 1)" font-size="10.0" fill="#000" text-anchor="middle">.2</text>
<text transform="translate(566.6 215.8) scale(0.87 1)" font-size="10.0" fill="#000" text-anchor="middle">.4</text>
<text transform="translate(603.0 215.8) scale(0.87 1)" font-size="10.0" fill="#000" text-anchor="middle">.6</text>
<text transform="translate(639.5 215.8) scale(0.87 1)" font-size="10.0" fill="#000" text-anchor="middle">.8</text>
<text transform="translate(676.0 215.8) scale(0.87 1)" font-size="10.0" fill="#000" text-anchor="middle">1</text>
<text transform="translate(381.0 181.2) rotate(-90) scale(0.87 1)" font-size="10.0" fill="#000" text-anchor="middle">-.4</text>
<text transform="translate(381.0 162.1) rotate(-90) scale(0.87 1)" font-size="10.0" fill="#000" text-anchor="middle">-.2</text>
<text transform="translate(381.0 143.1) rotate(-90) scale(0.87 1)" font-size="10.0" fill="#000" text-anchor="middle">0</text>
<text transform="translate(381.0 124.1) rotate(-90) scale(0.87 1)" font-size="10.0" fill="#000" text-anchor="middle">.2</text>
<text transform="translate(381.0 105.0) rotate(-90) scale(0.87 1)" font-size="10.0" fill="#000" text-anchor="middle">.4</text>
<text transform="translate(381.0 86.0) rotate(-90) scale(0.87 1)" font-size="10.0" fill="#000" text-anchor="middle">.6</text>
<text transform="translate(381.0 67.0) rotate(-90) scale(0.87 1)" font-size="10.0" fill="#000" text-anchor="middle">.8</text>
<text transform="translate(381.0 48.0) rotate(-90) scale(0.87 1)" font-size="10.0" fill="#000" text-anchor="middle">1</text>
<text x="538.8" y="228.2" font-size="12.1" fill="#000" text-anchor="middle">Observed EQ-5D utility</text>
<text transform="translate(369.5 119.4) rotate(-90)" font-size="12.15" fill="#000" text-anchor="middle">Predicted EQ-5D utility</text>
<path d="M420.6 181.2L676.0 48.0" stroke="#2e2e2e" stroke-width="1.7" stroke-dasharray="15 8.3" fill="none"/>
<path d="M583.9 65.5V111.0" stroke="#8a8a8a" stroke-width="1.4"/>
<path d="M579.9 65.5H587.9M579.9 111.0H587.9" stroke="#8a8a8a" stroke-width="1.3"/>
<path d="M583.9 71.1V90.3" stroke="#6e6e6e" stroke-width="2.0"/>
<path d="M580.6 71.1H587.2M580.6 90.3H587.2" stroke="#4e4e4e" stroke-width="2.7" stroke-linecap="round"/>
<circle cx="583.9" cy="78.2" r="2.55" fill="#000"/>
<path d="M630.1 59.4V78.7" stroke="#8a8a8a" stroke-width="1.4"/>
<path d="M626.1 59.4H634.1M626.1 78.7H634.1" stroke="#8a8a8a" stroke-width="1.3"/>
<path d="M630.1 63.0V73.2" stroke="#6e6e6e" stroke-width="2.0"/>
<path d="M626.9 63.0H633.4M626.9 73.2H633.4" stroke="#4e4e4e" stroke-width="2.7" stroke-linecap="round"/>
<circle cx="630.1" cy="67.3" r="2.55" fill="#000"/>
<path d="M649.4 58.6V74.1" stroke="#8a8a8a" stroke-width="1.4"/>
<path d="M645.4 58.6H653.4M645.4 74.1H653.4" stroke="#8a8a8a" stroke-width="1.3"/>
<path d="M649.4 60.9V69.0" stroke="#6e6e6e" stroke-width="2.0"/>
<path d="M646.1 60.9H652.7M646.1 69.0H652.7" stroke="#4e4e4e" stroke-width="2.7" stroke-linecap="round"/>
<circle cx="649.4" cy="65.1" r="2.55" fill="#000"/>
<path d="M675.5 56.4V70.4" stroke="#8a8a8a" stroke-width="1.4"/>
<path d="M671.5 56.4H679.5M671.5 70.4H679.5" stroke="#8a8a8a" stroke-width="1.3"/>
<path d="M675.5 58.0V65.0" stroke="#6e6e6e" stroke-width="2.0"/>
<path d="M672.2 58.0H678.8M672.2 65.0H678.8" stroke="#4e4e4e" stroke-width="2.7" stroke-linecap="round"/>
<circle cx="675.5" cy="61.1" r="2.55" fill="#000"/>
<text x="342.4" y="291.5" font-size="16.2" fill="#25315d" text-anchor="middle">Estimation dataset: Proxy-rated QoL-AD mapped to proxy-rated EQ-5D</text>
<path d="M33.6 457.5H327.0M33.6 438.4H327.0M33.6 419.4H327.0M33.6 400.4H327.0M33.6 381.3H327.0M33.6 362.3H327.0M33.6 343.3H327.0M33.6 324.3H327.0M61.6 314.7V476.7M98.1 314.7V476.7M134.6 314.7V476.7M171.1 314.7V476.7M207.6 314.7V476.7M244.0 314.7V476.7M280.5 314.7V476.7M317.0 314.7V476.7" stroke="#dfdfdf" stroke-width="1.5" fill="none"/>
<path d="M33.6 314.7V476.7H327.0" stroke="#1e1e1e" stroke-width="1.35" fill="none"/>
<path d="M27.9 457.5H33.6M61.6 476.7V482.6M27.9 438.4H33.6M98.1 476.7V482.6M27.9 419.4H33.6M134.6 476.7V482.6M27.9 400.4H33.6M171.1 476.7V482.6M27.9 381.3H33.6M207.6 476.7V482.6M27.9 362.3H33.6M244.0 476.7V482.6M27.9 343.3H33.6M280.5 476.7V482.6M27.9 324.3H33.6M317.0 476.7V482.6" stroke="#1e1e1e" stroke-width="1.35" fill="none"/>
<text transform="translate(61.6 492.1) scale(0.87 1)" font-size="10.0" fill="#000" text-anchor="middle">-.4</text>
<text transform="translate(98.1 492.1) scale(0.87 1)" font-size="10.0" fill="#000" text-anchor="middle">-.2</text>
<text transform="translate(134.6 492.1) scale(0.87 1)" font-size="10.0" fill="#000" text-anchor="middle">0</text>
<text transform="translate(171.1 492.1) scale(0.87 1)" font-size="10.0" fill="#000" text-anchor="middle">.2</text>
<text transform="translate(207.6 492.1) scale(0.87 1)" font-size="10.0" fill="#000" text-anchor="middle">.4</text>
<text transform="translate(244.0 492.1) scale(0.87 1)" font-size="10.0" fill="#000" text-anchor="middle">.6</text>
<text transform="translate(280.5 492.1) scale(0.87 1)" font-size="10.0" fill="#000" text-anchor="middle">.8</text>
<text transform="translate(317.0 492.1) scale(0.87 1)" font-size="10.0" fill="#000" text-anchor="middle">1</text>
<text transform="translate(22.0 457.5) rotate(-90) scale(0.87 1)" font-size="10.0" fill="#000" text-anchor="middle">-.4</text>
<text transform="translate(22.0 438.4) rotate(-90) scale(0.87 1)" font-size="10.0" fill="#000" text-anchor="middle">-.2</text>
<text transform="translate(22.0 419.4) rotate(-90) scale(0.87 1)" font-size="10.0" fill="#000" text-anchor="middle">0</text>
<text transform="translate(22.0 400.4) rotate(-90) scale(0.87 1)" font-size="10.0" fill="#000" text-anchor="middle">.2</text>
<text transform="translate(22.0 381.3) rotate(-90) scale(0.87 1)" font-size="10.0" fill="#000" text-anchor="middle">.4</text>
<text transform="translate(22.0 362.3) rotate(-90) scale(0.87 1)" font-size="10.0" fill="#000" text-anchor="middle">.6</text>
<text transform="translate(22.0 343.3) rotate(-90) scale(0.87 1)" font-size="10.0" fill="#000" text-anchor="middle">.8</text>
<text transform="translate(22.0 324.3) rotate(-90) scale(0.87 1)" font-size="10.0" fill="#000" text-anchor="middle">1</text>
<text x="180.3" y="504.5" font-size="12.1" fill="#000" text-anchor="middle">Observed EQ-5D utility</text>
<text transform="translate(10.5 395.7) rotate(-90)" font-size="12.15" fill="#000" text-anchor="middle">Predicted EQ-5D utility</text>
<g fill="#000" fill-opacity="0.45">
<circle cx="78.4" cy="401.5" r="1.9"/><circle cx="93.5" cy="398.9" r="1.9"/><circle cx="96.8" cy="399.6" r="1.9"/><circle cx="106.9" cy="382.1" r="1.9"/><circle cx="106.6" cy="392.3" r="1.9"/><circle cx="108.6" cy="392.7" r="1.9"/><circle cx="111.5" cy="393.3" r="1.9"/><circle cx="104.3" cy="403.5" r="1.9"/><circle cx="104.3" cy="409.4" r="1.9"/><circle cx="106.6" cy="410.5" r="1.9"/><circle cx="107.0" cy="412.0" r="1.9"/><circle cx="111.5" cy="409.0" r="1.9"/><circle cx="101.0" cy="421.2" r="1.9"/><circle cx="117.2" cy="417.7" r="1.9"/><circle cx="121.8" cy="382.7" r="1.9"/><circle cx="121.5" cy="390.1" r="1.9"/><circle cx="121.8" cy="404.4" r="1.9"/><circle cx="126.7" cy="372.0" r="1.9"/><circle cx="127.0" cy="382.5" r="1.9"/><circle cx="129.2" cy="386.0" r="1.9"/><circle cx="126.7" cy="400.9" r="1.9"/><circle cx="133.6" cy="379.9" r="1.9"/><circle cx="134.2" cy="382.5" r="1.9"/><circle cx="136.6" cy="376.8" r="1.9"/><circle cx="139.5" cy="387.1" r="1.9"/><circle cx="136.9" cy="398.9" r="1.9"/><circle cx="139.9" cy="400.0" r="1.9"/><circle cx="140.8" cy="414.3" r="1.9"/><circle cx="144.1" cy="377.5" r="1.9"/><circle cx="146.1" cy="379.9" r="1.9"/><circle cx="147.1" cy="370.7" r="1.9"/><circle cx="149.1" cy="383.5" r="1.9"/><circle cx="147.0" cy="396.3" r="1.9"/><circle cx="147.8" cy="394.7" r="1.9"/><circle cx="149.1" cy="423.9" r="1.9"/><circle cx="184.2" cy="340.5" r="1.9"/><circle cx="203.9" cy="341.5" r="1.9"/><circle cx="186.8" cy="345.9" r="1.9"/><circle cx="196.5" cy="346.1" r="1.9"/><circle cx="182.4" cy="348.7" r="1.9"/><circle cx="189.9" cy="350.5" r="1.9"/><circle cx="196.5" cy="352.8" r="1.9"/><circle cx="196.7" cy="354.8" r="1.9"/><circle cx="203.9" cy="353.3" r="1.9"/><circle cx="201.1" cy="356.9" r="1.9"/><circle cx="148.2" cy="355.5" r="1.9"/><circle cx="157.7" cy="357.6" r="1.9"/><circle cx="140.5" cy="358.9" r="1.9"/><circle cx="151.2" cy="361.3" r="1.9"/><circle cx="162.7" cy="360.4" r="1.9"/><circle cx="165.8" cy="360.4" r="1.9"/><circle cx="171.7" cy="361.2" r="1.9"/><circle cx="173.7" cy="359.9" r="1.9"/><circle cx="176.0" cy="357.4" r="1.9"/><circle cx="178.6" cy="360.4" r="1.9"/><circle cx="181.4" cy="358.4" r="1.9"/><circle cx="186.0" cy="358.2" r="1.9"/><circle cx="188.8" cy="361.5" r="1.9"/><circle cx="193.1" cy="360.9" r="1.9"/><circle cx="197.7" cy="361.5" r="1.9"/><circle cx="183.4" cy="363.7" r="1.9"/><circle cx="144.9" cy="364.5" r="1.9"/><circle cx="158.9" cy="365.5" r="1.9"/><circle cx="160.4" cy="368.9" r="1.9"/><circle cx="174.7" cy="365.0" r="1.9"/><circle cx="176.8" cy="367.6" r="1.9"/><circle cx="171.2" cy="368.1" r="1.9"/><circle cx="179.3" cy="367.6" r="1.9"/><circle cx="171.7" cy="372.5" r="1.9"/><circle cx="190.1" cy="367.6" r="1.9"/><circle cx="191.1" cy="368.6" r="1.9"/><circle cx="197.7" cy="367.1" r="1.9"/><circle cx="205.4" cy="364.5" r="1.9"/><circle cx="207.4" cy="362.0" r="1.9"/><circle cx="206.4" cy="369.6" r="1.9"/><circle cx="163.0" cy="374.7" r="1.9"/><circle cx="165.5" cy="375.3" r="1.9"/><circle cx="154.3" cy="376.3" r="1.9"/><circle cx="179.3" cy="373.2" r="1.9"/><circle cx="180.4" cy="376.3" r="1.9"/><circle cx="184.5" cy="374.7" r="1.9"/><circle cx="185.0" cy="376.8" r="1.9"/><circle cx="174.7" cy="376.3" r="1.9"/><circle cx="193.1" cy="375.8" r="1.9"/><circle cx="194.2" cy="378.3" r="1.9"/><circle cx="202.3" cy="372.7" r="1.9"/><circle cx="162.0" cy="379.3" r="1.9"/><circle cx="165.5" cy="381.4" r="1.9"/><circle cx="152.8" cy="387.0" r="1.9"/><circle cx="169.1" cy="383.9" r="1.9"/><circle cx="173.7" cy="382.9" r="1.9"/><circle cx="174.7" cy="386.0" r="1.9"/><circle cx="181.9" cy="382.9" r="1.9"/><circle cx="185.5" cy="385.0" r="1.9"/><circle cx="180.9" cy="388.0" r="1.9"/><circle cx="193.1" cy="385.0" r="1.9"/><circle cx="201.3" cy="380.9" r="1.9"/><circle cx="205.4" cy="387.0" r="1.9"/><circle cx="207.4" cy="379.9" r="1.9"/><circle cx="158.4" cy="389.6" r="1.9"/><circle cx="165.0" cy="389.0" r="1.9"/><circle cx="169.1" cy="392.6" r="1.9"/><circle cx="170.7" cy="395.7" r="1.9"/><circle cx="173.7" cy="395.7" r="1.9"/><circle cx="176.8" cy="392.1" r="1.9"/><circle cx="180.9" cy="395.7" r="1.9"/><circle cx="163.0" cy="395.7" r="1.9"/><circle cx="191.1" cy="392.6" r="1.9"/><circle cx="194.2" cy="392.6" r="1.9"/><circle cx="195.2" cy="396.7" r="1.9"/><circle cx="204.4" cy="388.0" r="1.9"/><circle cx="206.4" cy="392.1" r="1.9"/><circle cx="213.1" cy="341.8" r="1.9"/><circle cx="216.4" cy="346.3" r="1.9"/><circle cx="227.6" cy="345.3" r="1.9"/><circle cx="233.7" cy="345.3" r="1.9"/><circle cx="238.3" cy="342.8" r="1.9"/><circle cx="243.7" cy="342.3" r="1.9"/><circle cx="258.2" cy="339.4" r="1.9"/><circle cx="264.4" cy="339.2" r="1.9"/><circle cx="317.2" cy="357.3" r="1.9"/><circle cx="317.2" cy="363.2" r="1.9"/><circle cx="317.2" cy="386.1" r="1.9"/><circle cx="300.0" cy="387.6" r="1.9"/><circle cx="295.0" cy="366.8" r="1.9"/><circle cx="295.0" cy="373.8" r="1.9"/><circle cx="265.8" cy="391.9" r="1.9"/><circle cx="270.9" cy="390.9" r="1.9"/><circle cx="251.9" cy="396.8" r="1.9"/><circle cx="276.7" cy="386.5" r="1.9"/><circle cx="281.8" cy="382.6" r="1.9"/><circle cx="285.5" cy="378.5" r="1.9"/><circle cx="274.5" cy="333.2" r="1.9"/><circle cx="289.6" cy="334.7" r="1.9"/><circle cx="294.5" cy="331.1" r="1.9"/><circle cx="267.2" cy="386.5" r="1.9"/><circle cx="259.2" cy="386.5" r="1.9"/><circle cx="233.2" cy="395.0" r="1.9"/><circle cx="235.8" cy="390.2" r="1.9"/><circle cx="238.8" cy="389.5" r="1.9"/><circle cx="267.7" cy="375.6" r="1.9"/><circle cx="268.7" cy="382.2" r="1.9"/><circle cx="273.8" cy="376.3" r="1.9"/><circle cx="280.4" cy="377.0" r="1.9"/><circle cx="277.4" cy="370.5" r="1.9"/><circle cx="282.6" cy="371.9" r="1.9"/><circle cx="286.9" cy="371.9" r="1.9"/><circle cx="288.4" cy="366.1" r="1.9"/><circle cx="168.2" cy="404.1" r="1.9"/><circle cx="175.5" cy="391.7" r="1.9"/><circle cx="174.1" cy="416.5" r="1.9"/><circle cx="150.7" cy="423.8" r="1.9"/><circle cx="167.5" cy="385.1" r="1.9"/><circle cx="198.2" cy="398.7" r="1.9"/><circle cx="196.0" cy="399.7" r="1.9"/><circle cx="206.2" cy="400.4" r="1.9"/><circle cx="209.9" cy="391.0" r="1.9"/><circle cx="214.2" cy="385.8" r="1.9"/><circle cx="217.9" cy="394.6" r="1.9"/><circle cx="219.3" cy="389.5" r="1.9"/><circle cx="223.7" cy="401.9" r="1.9"/><circle cx="225.2" cy="395.3" r="1.9"/><circle cx="228.8" cy="391.0" r="1.9"/><circle cx="228.8" cy="414.6" r="1.9"/><circle cx="223.0" cy="382.9" r="1.9"/><circle cx="244.9" cy="382.9" r="1.9"/><circle cx="135.1" cy="362.7" r="1.9"/><circle cx="133.8" cy="368.1" r="1.9"/><circle cx="150.0" cy="361.1" r="1.9"/><circle cx="317.3" cy="329.5" r="1.9"/><circle cx="317.0" cy="330.5" r="1.9"/><circle cx="317.1" cy="332.1" r="1.9"/><circle cx="317.1" cy="332.8" r="1.9"/><circle cx="317.4" cy="334.4" r="1.9"/><circle cx="317.1" cy="335.6" r="1.9"/><circle cx="317.2" cy="336.7" r="1.9"/><circle cx="317.3" cy="337.9" r="1.9"/><circle cx="317.3" cy="339.0" r="1.9"/><circle cx="317.1" cy="340.0" r="1.9"/><circle cx="317.2" cy="341.2" r="1.9"/><circle cx="317.2" cy="342.5" r="1.9"/><circle cx="317.2" cy="343.2" r="1.9"/><circle cx="317.1" cy="344.3" r="1.9"/><circle cx="317.2" cy="345.4" r="1.9"/><circle cx="317.2" cy="346.6" r="1.9"/><circle cx="317.2" cy="348.0" r="1.9"/><circle cx="317.2" cy="349.3" r="1.9"/><circle cx="317.0" cy="350.5" r="1.9"/><circle cx="317.2" cy="351.4" r="1.9"/><circle cx="317.3" cy="352.8" r="1.9"/><circle cx="317.1" cy="353.7" r="1.9"/><circle cx="300.4" cy="334.7" r="1.9"/><circle cx="300.1" cy="335.9" r="1.9"/><circle cx="299.6" cy="336.7" r="1.9"/><circle cx="300.1" cy="337.7" r="1.9"/><circle cx="299.9" cy="338.5" r="1.9"/><circle cx="300.0" cy="339.0" r="1.9"/><circle cx="300.3" cy="339.6" r="1.9"/><circle cx="300.2" cy="340.7" r="1.9"/><circle cx="299.9" cy="341.7" r="1.9"/><circle cx="299.9" cy="342.3" r="1.9"/><circle cx="300.0" cy="343.3" r="1.9"/><circle cx="299.8" cy="343.9" r="1.9"/><circle cx="299.9" cy="344.7" r="1.9"/><circle cx="300.3" cy="345.4" r="1.9"/><circle cx="300.3" cy="346.3" r="1.9"/><circle cx="300.0" cy="347.0" r="1.9"/><circle cx="300.0" cy="348.2" r="1.9"/><circle cx="300.1" cy="348.9" r="1.9"/><circle cx="299.9" cy="349.5" r="1.9"/><circle cx="299.8" cy="350.4" r="1.9"/><circle cx="300.1" cy="351.4" r="1.9"/><circle cx="299.6" cy="352.1" r="1.9"/><circle cx="300.3" cy="352.8" r="1.9"/><circle cx="299.6" cy="353.5" r="1.9"/><circle cx="299.6" cy="354.2" r="1.9"/><circle cx="300.3" cy="355.3" r="1.9"/><circle cx="300.1" cy="356.2" r="1.9"/><circle cx="300.3" cy="356.9" r="1.9"/><circle cx="300.1" cy="357.7" r="1.9"/><circle cx="300.2" cy="358.5" r="1.9"/><circle cx="300.1" cy="359.1" r="1.9"/><circle cx="300.1" cy="360.1" r="1.9"/><circle cx="300.2" cy="360.7" r="1.9"/><circle cx="299.7" cy="361.4" r="1.9"/><circle cx="295.2" cy="340.2" r="1.9"/><circle cx="295.1" cy="340.7" r="1.9"/><circle cx="295.3" cy="341.8" r="1.9"/><circle cx="295.0" cy="342.3" r="1.9"/><circle cx="294.8" cy="343.2" r="1.9"/><circle cx="294.9" cy="344.1" r="1.9"/><circle cx="295.1" cy="345.2" r="1.9"/><circle cx="294.6" cy="345.8" r="1.9"/><circle cx="294.6" cy="346.3" r="1.9"/><circle cx="295.2" cy="347.4" r="1.9"/><circle cx="295.3" cy="348.2" r="1.9"/><circle cx="294.6" cy="348.9" r="1.9"/><circle cx="295.1" cy="350.1" r="1.9"/><circle cx="295.4" cy="350.6" r="1.9"/><circle cx="294.9" cy="351.2" r="1.9"/><circle cx="295.1" cy="352.1" r="1.9"/><circle cx="294.7" cy="352.8" r="1.9"/><circle cx="294.6" cy="354.0" r="1.9"/><circle cx="294.7" cy="355.0" r="1.9"/><circle cx="294.7" cy="355.8" r="1.9"/><circle cx="294.7" cy="356.1" r="1.9"/><circle cx="295.2" cy="357.0" r="1.9"/><circle cx="295.2" cy="357.8" r="1.9"/><circle cx="294.6" cy="359.0" r="1.9"/><circle cx="295.2" cy="359.9" r="1.9"/><circle cx="295.2" cy="360.2" r="1.9"/><circle cx="295.1" cy="361.4" r="1.9"/><circle cx="287.6" cy="338.7" r="1.9"/><circle cx="287.3" cy="339.5" r="1.9"/><circle cx="288.0" cy="339.7" r="1.9"/><circle cx="286.9" cy="340.9" r="1.9"/><circle cx="288.2" cy="341.3" r="1.9"/><circle cx="287.4" cy="342.5" r="1.9"/><circle cx="287.2" cy="343.4" r="1.9"/><circle cx="287.7" cy="343.7" r="1.9"/><circle cx="287.5" cy="344.8" r="1.9"/><circle cx="287.6" cy="345.7" r="1.9"/><circle cx="287.1" cy="346.6" r="1.9"/><circle cx="287.5" cy="347.3" r="1.9"/><circle cx="287.9" cy="348.0" r="1.9"/><circle cx="287.5" cy="349.0" r="1.9"/><circle cx="288.4" cy="349.8" r="1.9"/><circle cx="287.8" cy="350.3" r="1.9"/><circle cx="287.0" cy="351.5" r="1.9"/><circle cx="288.0" cy="352.2" r="1.9"/><circle cx="287.4" cy="352.9" r="1.9"/><circle cx="288.5" cy="353.8" r="1.9"/><circle cx="287.9" cy="354.3" r="1.9"/><circle cx="287.6" cy="355.4" r="1.9"/><circle cx="287.5" cy="356.1" r="1.9"/><circle cx="287.9" cy="357.0" r="1.9"/><circle cx="288.2" cy="357.5" r="1.9"/><circle cx="286.9" cy="358.3" r="1.9"/><circle cx="287.6" cy="359.3" r="1.9"/><circle cx="288.2" cy="360.2" r="1.9"/><circle cx="287.0" cy="361.0" r="1.9"/><circle cx="288.2" cy="361.8" r="1.9"/><circle cx="287.8" cy="362.3" r="1.9"/><circle cx="288.3" cy="363.4" r="1.9"/><circle cx="280.0" cy="338.6" r="1.9"/><circle cx="279.2" cy="339.0" r="1.9"/><circle cx="279.7" cy="340.2" r="1.9"/><circle cx="278.9" cy="341.0" r="1.9"/><circle cx="280.6" cy="341.5" r="1.9"/><circle cx="279.9" cy="342.6" r="1.9"/><circle cx="279.5" cy="343.1" r="1.9"/><circle cx="279.0" cy="344.3" r="1.9"/><circle cx="280.3" cy="344.9" r="1.9"/><circle cx="278.6" cy="345.9" r="1.9"/><circle cx="280.3" cy="346.4" r="1.9"/><circle cx="279.8" cy="347.6" r="1.9"/><circle cx="280.5" cy="348.2" r="1.9"/><circle cx="279.5" cy="349.1" r="1.9"/><circle cx="278.9" cy="349.6" r="1.9"/><circle cx="278.8" cy="350.8" r="1.9"/><circle cx="279.3" cy="351.5" r="1.9"/><circle cx="279.4" cy="352.3" r="1.9"/><circle cx="278.8" cy="352.8" r="1.9"/><circle cx="280.8" cy="353.8" r="1.9"/><circle cx="278.7" cy="354.8" r="1.9"/><circle cx="280.3" cy="355.3" r="1.9"/><circle cx="279.8" cy="356.3" r="1.9"/><circle cx="279.6" cy="356.9" r="1.9"/><circle cx="278.5" cy="358.3" r="1.9"/><circle cx="280.5" cy="358.8" r="1.9"/><circle cx="274.0" cy="336.9" r="1.9"/><circle cx="274.5" cy="337.8" r="1.9"/><circle cx="274.9" cy="338.8" r="1.9"/><circle cx="274.6" cy="339.7" r="1.9"/><circle cx="273.2" cy="340.0" r="1.9"/><circle cx="273.1" cy="340.8" r="1.9"/><circle cx="272.8" cy="341.6" r="1.9"/><circle cx="273.9" cy="342.9" r="1.9"/><circle cx="273.7" cy="343.7" r="1.9"/><circle cx="274.8" cy="344.0" r="1.9"/><circle cx="274.0" cy="345.0" r="1.9"/><circle cx="272.9" cy="346.2" r="1.9"/><circle cx="273.2" cy="346.7" r="1.9"/><circle cx="274.1" cy="347.8" r="1.9"/><circle cx="274.2" cy="348.2" r="1.9"/><circle cx="273.7" cy="348.9" r="1.9"/><circle cx="274.9" cy="350.2" r="1.9"/><circle cx="273.1" cy="350.4" r="1.9"/><circle cx="273.2" cy="351.4" r="1.9"/><circle cx="274.8" cy="352.6" r="1.9"/><circle cx="274.6" cy="352.9" r="1.9"/><circle cx="274.5" cy="354.1" r="1.9"/><circle cx="274.2" cy="355.1" r="1.9"/><circle cx="272.7" cy="355.4" r="1.9"/><circle cx="274.4" cy="356.6" r="1.9"/><circle cx="274.2" cy="357.1" r="1.9"/><circle cx="274.0" cy="358.1" r="1.9"/><circle cx="272.9" cy="358.7" r="1.9"/><circle cx="267.4" cy="339.8" r="1.9"/><circle cx="268.0" cy="340.7" r="1.9"/><circle cx="267.4" cy="341.6" r="1.9"/><circle cx="268.4" cy="342.4" r="1.9"/><circle cx="268.5" cy="343.4" r="1.9"/><circle cx="266.9" cy="344.8" r="1.9"/><circle cx="267.3" cy="345.7" r="1.9"/><circle cx="268.9" cy="346.6" r="1.9"/><circle cx="267.1" cy="347.2" r="1.9"/><circle cx="267.0" cy="348.4" r="1.9"/><circle cx="268.8" cy="349.1" r="1.9"/><circle cx="267.9" cy="349.8" r="1.9"/><circle cx="268.8" cy="350.8" r="1.9"/><circle cx="268.3" cy="351.5" r="1.9"/><circle cx="267.3" cy="352.4" r="1.9"/><circle cx="268.5" cy="353.6" r="1.9"/><circle cx="267.1" cy="354.7" r="1.9"/><circle cx="267.4" cy="355.3" r="1.9"/><circle cx="267.2" cy="356.1" r="1.9"/><circle cx="268.8" cy="357.1" r="1.9"/><circle cx="267.2" cy="358.1" r="1.9"/><circle cx="267.6" cy="359.2" r="1.9"/><circle cx="267.1" cy="360.2" r="1.9"/><circle cx="266.9" cy="361.0" r="1.9"/><circle cx="268.4" cy="361.5" r="1.9"/><circle cx="263.5" cy="340.9" r="1.9"/><circle cx="263.0" cy="341.8" r="1.9"/><circle cx="263.3" cy="343.3" r="1.9"/><circle cx="264.8" cy="344.3" r="1.9"/><circle cx="262.6" cy="344.9" r="1.9"/><circle cx="264.6" cy="345.8" r="1.9"/><circle cx="264.1" cy="347.0" r="1.9"/><circle cx="264.7" cy="347.8" r="1.9"/><circle cx="264.3" cy="349.0" r="1.9"/><circle cx="262.7" cy="349.8" r="1.9"/><circle cx="264.4" cy="351.2" r="1.9"/><circle cx="262.8" cy="352.1" r="1.9"/><circle cx="264.6" cy="353.0" r="1.9"/><circle cx="263.8" cy="354.0" r="1.9"/><circle cx="262.8" cy="355.4" r="1.9"/><circle cx="264.1" cy="356.1" r="1.9"/><circle cx="262.6" cy="357.0" r="1.9"/><circle cx="263.9" cy="358.3" r="1.9"/><circle cx="263.1" cy="359.1" r="1.9"/><circle cx="263.9" cy="360.4" r="1.9"/><circle cx="277.6" cy="357.8" r="1.9"/><circle cx="272.4" cy="351.9" r="1.9"/><circle cx="271.6" cy="339.9" r="1.9"/><circle cx="277.5" cy="349.4" r="1.9"/><circle cx="284.1" cy="354.2" r="1.9"/><circle cx="281.6" cy="347.1" r="1.9"/><circle cx="236.3" cy="366.3" r="1.9"/><circle cx="248.2" cy="343.6" r="1.9"/><circle cx="248.5" cy="358.2" r="1.9"/><circle cx="224.3" cy="355.7" r="1.9"/><circle cx="253.4" cy="355.5" r="1.9"/><circle cx="232.0" cy="362.3" r="1.9"/><circle cx="245.2" cy="362.2" r="1.9"/><circle cx="249.2" cy="363.5" r="1.9"/><circle cx="228.0" cy="367.7" r="1.9"/><circle cx="287.0" cy="354.8" r="1.9"/><circle cx="257.9" cy="356.0" r="1.9"/><circle cx="287.9" cy="345.6" r="1.9"/><circle cx="240.5" cy="365.8" r="1.9"/><circle cx="270.1" cy="344.6" r="1.9"/><circle cx="225.2" cy="358.4" r="1.9"/><circle cx="262.0" cy="355.8" r="1.9"/><circle cx="270.4" cy="341.5" r="1.9"/><circle cx="256.6" cy="355.0" r="1.9"/><circle cx="250.8" cy="342.7" r="1.9"/><circle cx="233.7" cy="357.5" r="1.9"/><circle cx="273.3" cy="343.6" r="1.9"/><circle cx="249.7" cy="352.3" r="1.9"/><circle cx="279.4" cy="355.9" r="1.9"/><circle cx="275.3" cy="349.5" r="1.9"/><circle cx="239.9" cy="349.4" r="1.9"/><circle cx="227.5" cy="355.6" r="1.9"/><circle cx="240.5" cy="352.4" r="1.9"/><circle cx="265.8" cy="350.4" r="1.9"/><circle cx="252.6" cy="355.2" r="1.9"/><circle cx="285.8" cy="359.5" r="1.9"/><circle cx="282.4" cy="339.2" r="1.9"/><circle cx="266.3" cy="347.0" r="1.9"/><circle cx="268.8" cy="347.3" r="1.9"/><circle cx="265.0" cy="346.5" r="1.9"/><circle cx="258.3" cy="352.7" r="1.9"/><circle cx="286.8" cy="347.8" r="1.9"/><circle cx="244.2" cy="360.0" r="1.9"/><circle cx="231.9" cy="358.2" r="1.9"/><circle cx="287.1" cy="355.5" r="1.9"/><circle cx="241.7" cy="353.9" r="1.9"/><circle cx="259.2" cy="343.0" r="1.9"/><circle cx="243.4" cy="351.8" r="1.9"/><circle cx="243.0" cy="346.3" r="1.9"/><circle cx="229.8" cy="356.6" r="1.9"/><circle cx="279.4" cy="358.7" r="1.9"/><circle cx="261.6" cy="360.1" r="1.9"/><circle cx="237.3" cy="362.2" r="1.9"/><circle cx="254.4" cy="356.6" r="1.9"/><circle cx="264.4" cy="353.9" r="1.9"/><circle cx="244.5" cy="346.2" r="1.9"/><circle cx="238.6" cy="355.4" r="1.9"/><circle cx="249.3" cy="357.9" r="1.9"/><circle cx="280.9" cy="346.1" r="1.9"/><circle cx="260.7" cy="354.7" r="1.9"/><circle cx="243.5" cy="364.3" r="1.9"/><circle cx="281.5" cy="353.0" r="1.9"/><circle cx="253.0" cy="363.0" r="1.9"/><circle cx="234.2" cy="349.5" r="1.9"/><circle cx="247.3" cy="361.0" r="1.9"/><circle cx="278.2" cy="355.6" r="1.9"/><circle cx="272.8" cy="363.3" r="1.9"/><circle cx="274.1" cy="354.2" r="1.9"/><circle cx="275.8" cy="362.1" r="1.9"/><circle cx="284.4" cy="342.3" r="1.9"/><circle cx="274.5" cy="357.9" r="1.9"/><circle cx="261.7" cy="352.2" r="1.9"/><circle cx="264.1" cy="350.9" r="1.9"/><circle cx="253.9" cy="353.6" r="1.9"/><circle cx="271.7" cy="348.0" r="1.9"/><circle cx="249.8" cy="356.9" r="1.9"/><circle cx="249.4" cy="348.9" r="1.9"/><circle cx="257.0" cy="353.1" r="1.9"/><circle cx="236.2" cy="348.3" r="1.9"/><circle cx="233.6" cy="357.6" r="1.9"/><circle cx="262.4" cy="341.0" r="1.9"/><circle cx="284.7" cy="349.0" r="1.9"/><circle cx="287.3" cy="344.9" r="1.9"/><circle cx="261.3" cy="354.9" r="1.9"/><circle cx="258.2" cy="355.6" r="1.9"/><circle cx="269.2" cy="351.2" r="1.9"/><circle cx="247.6" cy="358.2" r="1.9"/><circle cx="268.6" cy="355.9" r="1.9"/><circle cx="230.5" cy="350.7" r="1.9"/><circle cx="250.5" cy="357.1" r="1.9"/><circle cx="287.7" cy="354.5" r="1.9"/><circle cx="253.1" cy="359.2" r="1.9"/><circle cx="289.7" cy="349.7" r="1.9"/><circle cx="259.0" cy="365.7" r="1.9"/><circle cx="235.3" cy="348.8" r="1.9"/><circle cx="257.8" cy="341.8" r="1.9"/><circle cx="283.0" cy="361.5" r="1.9"/><circle cx="282.6" cy="352.3" r="1.9"/><circle cx="257.8" cy="355.2" r="1.9"/><circle cx="265.6" cy="358.5" r="1.9"/><circle cx="251.2" cy="364.8" r="1.9"/><circle cx="244.2" cy="361.5" r="1.9"/><circle cx="279.6" cy="357.9" r="1.9"/><circle cx="268.1" cy="344.7" r="1.9"/><circle cx="256.9" cy="356.8" r="1.9"/><circle cx="241.6" cy="360.0" r="1.9"/><circle cx="261.9" cy="352.0" r="1.9"/><circle cx="274.1" cy="341.6" r="1.9"/><circle cx="258.5" cy="366.0" r="1.9"/><circle cx="264.5" cy="365.4" r="1.9"/><circle cx="274.9" cy="349.0" r="1.9"/><circle cx="271.2" cy="350.0" r="1.9"/><circle cx="230.6" cy="368.7" r="1.9"/><circle cx="262.4" cy="349.9" r="1.9"/><circle cx="253.7" cy="351.1" r="1.9"/><circle cx="227.6" cy="368.3" r="1.9"/><circle cx="253.0" cy="359.1" r="1.9"/><circle cx="244.8" cy="368.6" r="1.9"/><circle cx="277.8" cy="348.3" r="1.9"/><circle cx="240.0" cy="351.3" r="1.9"/><circle cx="271.4" cy="345.5" r="1.9"/><circle cx="244.4" cy="367.8" r="1.9"/><circle cx="256.0" cy="365.0" r="1.9"/><circle cx="247.7" cy="344.3" r="1.9"/><circle cx="288.1" cy="347.9" r="1.9"/><circle cx="261.1" cy="341.9" r="1.9"/><circle cx="259.2" cy="351.1" r="1.9"/><circle cx="232.1" cy="366.1" r="1.9"/><circle cx="247.2" cy="346.3" r="1.9"/><circle cx="236.6" cy="347.6" r="1.9"/><circle cx="267.8" cy="349.6" r="1.9"/><circle cx="234.3" cy="362.0" r="1.9"/><circle cx="279.1" cy="342.3" r="1.9"/><circle cx="253.3" cy="366.4" r="1.9"/><circle cx="277.1" cy="343.4" r="1.9"/><circle cx="247.3" cy="362.6" r="1.9"/><circle cx="237.7" cy="370.3" r="1.9"/><circle cx="257.3" cy="345.7" r="1.9"/><circle cx="253.9" cy="342.5" r="1.9"/><circle cx="270.6" cy="346.9" r="1.9"/><circle cx="283.4" cy="358.0" r="1.9"/><circle cx="248.3" cy="346.4" r="1.9"/><circle cx="264.1" cy="345.2" r="1.9"/><circle cx="281.6" cy="342.2" r="1.9"/><circle cx="257.9" cy="356.4" r="1.9"/><circle cx="241.8" cy="364.2" r="1.9"/><circle cx="249.4" cy="360.4" r="1.9"/><circle cx="261.5" cy="348.6" r="1.9"/><circle cx="235.7" cy="366.9" r="1.9"/><circle cx="245.2" cy="360.5" r="1.9"/><circle cx="231.2" cy="357.1" r="1.9"/><circle cx="247.9" cy="355.0" r="1.9"/><circle cx="244.5" cy="345.7" r="1.9"/><circle cx="232.3" cy="362.4" r="1.9"/><circle cx="242.6" cy="351.7" r="1.9"/><circle cx="226.0" cy="361.1" r="1.9"/><circle cx="267.8" cy="349.9" r="1.9"/><circle cx="251.2" cy="360.4" r="1.9"/><circle cx="270.2" cy="346.4" r="1.9"/><circle cx="279.9" cy="350.0" r="1.9"/><circle cx="265.5" cy="344.2" r="1.9"/><circle cx="231.6" cy="369.0" r="1.9"/><circle cx="272.4" cy="362.2" r="1.9"/><circle cx="244.0" cy="350.9" r="1.9"/><circle cx="266.1" cy="344.1" r="1.9"/><circle cx="279.4" cy="357.4" r="1.9"/><circle cx="271.3" cy="346.7" r="1.9"/><circle cx="252.7" cy="361.3" r="1.9"/><circle cx="280.4" cy="358.7" r="1.9"/><circle cx="231.3" cy="364.9" r="1.9"/><circle cx="237.9" cy="369.1" r="1.9"/><circle cx="273.5" cy="340.9" r="1.9"/><circle cx="269.8" cy="351.4" r="1.9"/><circle cx="286.5" cy="352.4" r="1.9"/><circle cx="265.5" cy="353.4" r="1.9"/><circle cx="227.6" cy="361.7" r="1.9"/><circle cx="252.3" cy="355.4" r="1.9"/><circle cx="285.3" cy="342.3" r="1.9"/><circle cx="274.3" cy="339.5" r="1.9"/><circle cx="241.2" cy="356.6" r="1.9"/><circle cx="288.0" cy="359.7" r="1.9"/><circle cx="259.9" cy="346.5" r="1.9"/><circle cx="251.2" cy="344.8" r="1.9"/><circle cx="244.5" cy="342.6" r="1.9"/><circle cx="270.7" cy="360.8" r="1.9"/><circle cx="239.7" cy="346.2" r="1.9"/><circle cx="258.0" cy="353.1" r="1.9"/><circle cx="285.8" cy="349.9" r="1.9"/><circle cx="243.8" cy="368.1" r="1.9"/><circle cx="233.4" cy="357.2" r="1.9"/><circle cx="246.0" cy="365.7" r="1.9"/><circle cx="260.2" cy="363.9" r="1.9"/><circle cx="235.2" cy="360.7" r="1.9"/><circle cx="263.5" cy="353.7" r="1.9"/><circle cx="247.8" cy="345.0" r="1.9"/><circle cx="237.0" cy="361.9" r="1.9"/><circle cx="253.6" cy="341.8" r="1.9"/><circle cx="245.4" cy="353.9" r="1.9"/><circle cx="248.0" cy="343.7" r="1.9"/><circle cx="229.5" cy="362.4" r="1.9"/><circle cx="288.7" cy="357.2" r="1.9"/><circle cx="231.2" cy="354.6" r="1.9"/><circle cx="252.7" cy="344.5" r="1.9"/><circle cx="284.7" cy="359.9" r="1.9"/><circle cx="267.1" cy="346.5" r="1.9"/><circle cx="225.8" cy="364.3" r="1.9"/><circle cx="279.4" cy="348.1" r="1.9"/><circle cx="236.3" cy="359.7" r="1.9"/><circle cx="235.1" cy="364.7" r="1.9"/><circle cx="245.6" cy="344.3" r="1.9"/><circle cx="278.5" cy="348.9" r="1.9"/><circle cx="248.3" cy="356.7" r="1.9"/><circle cx="248.4" cy="366.3" r="1.9"/><circle cx="261.4" cy="359.4" r="1.9"/><circle cx="278.1" cy="362.0" r="1.9"/><circle cx="256.6" cy="355.0" r="1.9"/><circle cx="234.4" cy="348.2" r="1.9"/><circle cx="262.4" cy="340.7" r="1.9"/><circle cx="269.4" cy="343.6" r="1.9"/><circle cx="253.0" cy="344.5" r="1.9"/><circle cx="275.9" cy="352.5" r="1.9"/><circle cx="242.7" cy="360.5" r="1.9"/><circle cx="258.0" cy="352.3" r="1.9"/><circle cx="246.4" cy="352.9" r="1.9"/><circle cx="283.7" cy="343.6" r="1.9"/><circle cx="243.5" cy="353.1" r="1.9"/><circle cx="261.2" cy="349.8" r="1.9"/><circle cx="245.4" cy="353.7" r="1.9"/><circle cx="287.5" cy="359.1" r="1.9"/><circle cx="277.5" cy="340.0" r="1.9"/><circle cx="268.6" cy="358.7" r="1.9"/><circle cx="243.6" cy="357.4" r="1.9"/><circle cx="286.9" cy="354.3" r="1.9"/><circle cx="266.7" cy="348.2" r="1.9"/><circle cx="246.7" cy="368.1" r="1.9"/><circle cx="268.8" cy="353.2" r="1.9"/><circle cx="229.6" cy="360.5" r="1.9"/><circle cx="248.6" cy="357.7" r="1.9"/><circle cx="251.5" cy="356.0" r="1.9"/><circle cx="261.3" cy="351.5" r="1.9"/><circle cx="282.7" cy="356.6" r="1.9"/><circle cx="231.4" cy="367.3" r="1.9"/><circle cx="259.0" cy="346.6" r="1.9"/><circle cx="256.3" cy="356.8" r="1.9"/><circle cx="239.0" cy="357.5" r="1.9"/><circle cx="231.5" cy="355.4" r="1.9"/><circle cx="262.8" cy="340.7" r="1.9"/><circle cx="253.0" cy="367.4" r="1.9"/><circle cx="260.3" cy="362.3" r="1.9"/><circle cx="274.0" cy="341.9" r="1.9"/><circle cx="230.7" cy="366.2" r="1.9"/><circle cx="249.9" cy="343.8" r="1.9"/><circle cx="287.4" cy="357.1" r="1.9"/><circle cx="275.1" cy="342.7" r="1.9"/><circle cx="275.2" cy="340.0" r="1.9"/><circle cx="239.6" cy="350.7" r="1.9"/><circle cx="225.0" cy="358.2" r="1.9"/><circle cx="238.1" cy="348.2" r="1.9"/><circle cx="270.7" cy="352.5" r="1.9"/><circle cx="282.6" cy="359.1" r="1.9"/><circle cx="281.6" cy="357.1" r="1.9"/><circle cx="235.1" cy="363.3" r="1.9"/><circle cx="246.5" cy="364.0" r="1.9"/><circle cx="232.1" cy="350.7" r="1.9"/><circle cx="263.9" cy="341.4" r="1.9"/><circle cx="260.2" cy="365.3" r="1.9"/><circle cx="231.5" cy="369.5" r="1.9"/><circle cx="268.6" cy="346.7" r="1.9"/><circle cx="236.7" cy="353.2" r="1.9"/><circle cx="279.3" cy="357.8" r="1.9"/><circle cx="231.3" cy="365.2" r="1.9"/><circle cx="236.2" cy="356.8" r="1.9"/><circle cx="243.1" cy="361.4" r="1.9"/><circle cx="249.1" cy="342.9" r="1.9"/><circle cx="281.8" cy="356.3" r="1.9"/><circle cx="286.6" cy="338.5" r="1.9"/><circle cx="246.6" cy="343.1" r="1.9"/><circle cx="257.1" cy="367.7" r="1.9"/><circle cx="276.8" cy="339.2" r="1.9"/><circle cx="236.0" cy="365.8" r="1.9"/><circle cx="268.8" cy="351.3" r="1.9"/><circle cx="255.4" cy="343.4" r="1.9"/><circle cx="279.8" cy="351.4" r="1.9"/><circle cx="281.6" cy="358.8" r="1.9"/><circle cx="238.3" cy="368.4" r="1.9"/><circle cx="235.2" cy="350.3" r="1.9"/><circle cx="254.9" cy="357.6" r="1.9"/><circle cx="249.6" cy="350.0" r="1.9"/><circle cx="224.4" cy="357.7" r="1.9"/><circle cx="268.3" cy="347.3" r="1.9"/><circle cx="242.0" cy="355.0" r="1.9"/><circle cx="241.3" cy="357.3" r="1.9"/><circle cx="289.5" cy="339.2" r="1.9"/><circle cx="261.0" cy="364.2" r="1.9"/><circle cx="265.8" cy="359.6" r="1.9"/><circle cx="248.0" cy="347.6" r="1.9"/><circle cx="244.1" cy="364.0" r="1.9"/><circle cx="272.8" cy="355.3" r="1.9"/><circle cx="265.9" cy="349.9" r="1.9"/><circle cx="260.3" cy="351.8" r="1.9"/><circle cx="255.8" cy="350.5" r="1.9"/><circle cx="240.1" cy="346.0" r="1.9"/><circle cx="247.0" cy="342.6" r="1.9"/><circle cx="224.5" cy="367.6" r="1.9"/><circle cx="253.9" cy="353.1" r="1.9"/><circle cx="261.5" cy="348.3" r="1.9"/><circle cx="243.9" cy="348.5" r="1.9"/><circle cx="272.0" cy="356.7" r="1.9"/><circle cx="285.9" cy="349.6" r="1.9"/><circle cx="284.8" cy="357.8" r="1.9"/><circle cx="247.6" cy="364.3" r="1.9"/><circle cx="252.3" cy="367.5" r="1.9"/><circle cx="228.5" cy="354.5" r="1.9"/><circle cx="283.3" cy="347.4" r="1.9"/><circle cx="270.5" cy="345.4" r="1.9"/><circle cx="250.4" cy="344.8" r="1.9"/><circle cx="266.8" cy="344.7" r="1.9"/><circle cx="263.7" cy="340.7" r="1.9"/><circle cx="246.5" cy="342.6" r="1.9"/><circle cx="236.4" cy="356.3" r="1.9"/><circle cx="281.8" cy="359.8" r="1.9"/><circle cx="284.9" cy="345.2" r="1.9"/><circle cx="245.6" cy="363.5" r="1.9"/><circle cx="266.8" cy="351.8" r="1.9"/><circle cx="268.8" cy="349.5" r="1.9"/><circle cx="227.8" cy="352.1" r="1.9"/><circle cx="227.0" cy="359.3" r="1.9"/><circle cx="246.1" cy="354.8" r="1.9"/><circle cx="263.5" cy="346.7" r="1.9"/><circle cx="285.1" cy="357.2" r="1.9"/><circle cx="289.2" cy="339.9" r="1.9"/><circle cx="264.5" cy="362.6" r="1.9"/><circle cx="274.6" cy="341.1" r="1.9"/><circle cx="277.7" cy="352.4" r="1.9"/><circle cx="259.6" cy="358.0" r="1.9"/><circle cx="260.6" cy="360.4" r="1.9"/><circle cx="263.7" cy="349.2" r="1.9"/><circle cx="272.9" cy="346.8" r="1.9"/><circle cx="271.0" cy="364.0" r="1.9"/><circle cx="275.2" cy="348.5" r="1.9"/><circle cx="253.9" cy="347.5" r="1.9"/><circle cx="255.4" cy="360.3" r="1.9"/><circle cx="275.1" cy="350.3" r="1.9"/><circle cx="289.3" cy="345.8" r="1.9"/><circle cx="273.9" cy="341.1" r="1.9"/><circle cx="228.0" cy="355.1" r="1.9"/><circle cx="260.6" cy="344.2" r="1.9"/><circle cx="286.0" cy="350.4" r="1.9"/><circle cx="275.4" cy="346.2" r="1.9"/><circle cx="288.8" cy="355.0" r="1.9"/><circle cx="266.0" cy="349.7" r="1.9"/><circle cx="276.8" cy="353.6" r="1.9"/><circle cx="245.4" cy="368.7" r="1.9"/><circle cx="231.1" cy="362.9" r="1.9"/><circle cx="228.3" cy="359.9" r="1.9"/><circle cx="250.5" cy="367.4" r="1.9"/><circle cx="228.0" cy="357.2" r="1.9"/><circle cx="286.4" cy="359.3" r="1.9"/><circle cx="238.8" cy="346.6" r="1.9"/><circle cx="241.3" cy="352.7" r="1.9"/><circle cx="274.1" cy="359.9" r="1.9"/><circle cx="238.3" cy="357.4" r="1.9"/><circle cx="234.3" cy="367.3" r="1.9"/><circle cx="281.4" cy="347.1" r="1.9"/><circle cx="242.6" cy="349.3" r="1.9"/><circle cx="234.7" cy="361.2" r="1.9"/><circle cx="263.4" cy="353.4" r="1.9"/><circle cx="237.8" cy="368.0" r="1.9"/><circle cx="247.8" cy="364.5" r="1.9"/><circle cx="281.0" cy="344.2" r="1.9"/><circle cx="231.4" cy="371.1" r="1.9"/><circle cx="224.6" cy="369.0" r="1.9"/><circle cx="234.0" cy="363.0" r="1.9"/><circle cx="269.1" cy="341.1" r="1.9"/><circle cx="246.4" cy="369.2" r="1.9"/><circle cx="288.7" cy="339.1" r="1.9"/><circle cx="239.5" cy="364.9" r="1.9"/><circle cx="257.3" cy="345.9" r="1.9"/><circle cx="252.4" cy="341.6" r="1.9"/><circle cx="225.3" cy="371.7" r="1.9"/><circle cx="244.9" cy="367.9" r="1.9"/><circle cx="232.0" cy="354.6" r="1.9"/><circle cx="233.0" cy="352.6" r="1.9"/><circle cx="235.8" cy="361.3" r="1.9"/><circle cx="233.8" cy="363.1" r="1.9"/><circle cx="257.0" cy="341.8" r="1.9"/><circle cx="247.3" cy="354.9" r="1.9"/><circle cx="284.6" cy="349.9" r="1.9"/><circle cx="238.2" cy="370.9" r="1.9"/><circle cx="242.0" cy="344.0" r="1.9"/><circle cx="226.9" cy="355.3" r="1.9"/><circle cx="250.9" cy="356.9" r="1.9"/><circle cx="269.4" cy="360.2" r="1.9"/><circle cx="259.9" cy="356.7" r="1.9"/><circle cx="250.4" cy="348.8" r="1.9"/><circle cx="249.5" cy="351.1" r="1.9"/><circle cx="251.1" cy="342.9" r="1.9"/><circle cx="289.9" cy="338.2" r="1.9"/><circle cx="240.8" cy="358.8" r="1.9"/><circle cx="248.9" cy="346.2" r="1.9"/><circle cx="284.0" cy="339.7" r="1.9"/><circle cx="269.8" cy="349.0" r="1.9"/><circle cx="266.7" cy="356.7" r="1.9"/><circle cx="224.1" cy="363.4" r="1.9"/><circle cx="280.3" cy="355.3" r="1.9"/><circle cx="239.5" cy="359.4" r="1.9"/><circle cx="273.1" cy="350.9" r="1.9"/><circle cx="271.0" cy="351.4" r="1.9"/><circle cx="258.7" cy="358.8" r="1.9"/><circle cx="268.7" cy="349.0" r="1.9"/><circle cx="265.5" cy="356.5" r="1.9"/><circle cx="238.7" cy="358.8" r="1.9"/><circle cx="241.5" cy="368.9" r="1.9"/><circle cx="255.2" cy="362.5" r="1.9"/><circle cx="258.5" cy="354.2" r="1.9"/><circle cx="285.2" cy="356.0" r="1.9"/><circle cx="258.6" cy="355.9" r="1.9"/><circle cx="277.7" cy="346.1" r="1.9"/><circle cx="235.4" cy="365.9" r="1.9"/><circle cx="254.4" cy="359.8" r="1.9"/><circle cx="281.3" cy="339.5" r="1.9"/><circle cx="249.2" cy="366.3" r="1.9"/><circle cx="278.0" cy="342.2" r="1.9"/><circle cx="230.8" cy="350.1" r="1.9"/><circle cx="277.0" cy="355.7" r="1.9"/><circle cx="269.9" cy="353.3" r="1.9"/><circle cx="255.6" cy="365.1" r="1.9"/><circle cx="274.1" cy="343.1" r="1.9"/><circle cx="268.9" cy="350.5" r="1.9"/><circle cx="258.4" cy="346.1" r="1.9"/><circle cx="248.5" cy="349.6" r="1.9"/><circle cx="237.3" cy="357.4" r="1.9"/><circle cx="271.4" cy="347.3" r="1.9"/><circle cx="245.4" cy="346.2" r="1.9"/><circle cx="279.1" cy="341.1" r="1.9"/><circle cx="237.3" cy="352.4" r="1.9"/><circle cx="276.3" cy="359.0" r="1.9"/><circle cx="253.2" cy="350.5" r="1.9"/><circle cx="271.0" cy="348.0" r="1.9"/><circle cx="250.9" cy="360.0" r="1.9"/><circle cx="277.5" cy="350.0" r="1.9"/><circle cx="249.4" cy="357.7" r="1.9"/><circle cx="285.0" cy="344.5" r="1.9"/><circle cx="248.6" cy="360.6" r="1.9"/><circle cx="273.9" cy="350.9" r="1.9"/><circle cx="258.7" cy="354.9" r="1.9"/><circle cx="225.7" cy="358.2" r="1.9"/><circle cx="254.5" cy="353.7" r="1.9"/><circle cx="279.4" cy="352.1" r="1.9"/><circle cx="253.0" cy="354.7" r="1.9"/><circle cx="257.8" cy="366.0" r="1.9"/><circle cx="268.2" cy="363.2" r="1.9"/><circle cx="268.9" cy="356.8" r="1.9"/><circle cx="229.1" cy="365.8" r="1.9"/><circle cx="273.7" cy="357.2" r="1.9"/><circle cx="227.6" cy="361.2" r="1.9"/><circle cx="270.9" cy="354.4" r="1.9"/><circle cx="227.6" cy="361.5" r="1.9"/><circle cx="251.6" cy="357.9" r="1.9"/><circle cx="281.5" cy="342.9" r="1.9"/><circle cx="246.1" cy="355.6" r="1.9"/><circle cx="224.4" cy="371.6" r="1.9"/><circle cx="242.1" cy="346.9" r="1.9"/><circle cx="244.7" cy="346.7" r="1.9"/><circle cx="280.7" cy="356.9" r="1.9"/><circle cx="257.7" cy="352.3" r="1.9"/><circle cx="280.5" cy="346.7" r="1.9"/><circle cx="259.4" cy="350.7" r="1.9"/><circle cx="254.6" cy="354.6" r="1.9"/><circle cx="262.5" cy="350.4" r="1.9"/><circle cx="220.2" cy="358.0" r="1.9"/><circle cx="222.5" cy="372.2" r="1.9"/><circle cx="206.0" cy="362.6" r="1.9"/><circle cx="215.1" cy="366.4" r="1.9"/><circle cx="215.7" cy="362.9" r="1.9"/><circle cx="210.2" cy="381.8" r="1.9"/><circle cx="210.5" cy="378.4" r="1.9"/><circle cx="220.2" cy="373.7" r="1.9"/><circle cx="213.6" cy="387.4" r="1.9"/><circle cx="213.5" cy="385.1" r="1.9"/><circle cx="206.1" cy="367.3" r="1.9"/><circle cx="221.4" cy="352.9" r="1.9"/><circle cx="216.3" cy="357.2" r="1.9"/><circle cx="222.5" cy="372.4" r="1.9"/><circle cx="220.2" cy="369.9" r="1.9"/><circle cx="217.8" cy="377.0" r="1.9"/><circle cx="210.6" cy="358.4" r="1.9"/><circle cx="220.9" cy="355.8" r="1.9"/><circle cx="222.4" cy="358.3" r="1.9"/><circle cx="219.9" cy="388.0" r="1.9"/><circle cx="212.9" cy="376.4" r="1.9"/><circle cx="209.9" cy="386.2" r="1.9"/><circle cx="218.0" cy="356.2" r="1.9"/><circle cx="206.1" cy="377.8" r="1.9"/><circle cx="205.8" cy="383.4" r="1.9"/><circle cx="210.6" cy="359.3" r="1.9"/><circle cx="216.1" cy="362.7" r="1.9"/><circle cx="215.7" cy="356.2" r="1.9"/><circle cx="222.3" cy="363.0" r="1.9"/><circle cx="221.0" cy="356.1" r="1.9"/><circle cx="220.2" cy="389.2" r="1.9"/><circle cx="212.2" cy="375.6" r="1.9"/><circle cx="209.2" cy="371.8" r="1.9"/><circle cx="206.8" cy="368.6" r="1.9"/><circle cx="218.8" cy="367.2" r="1.9"/><circle cx="217.9" cy="354.6" r="1.9"/><circle cx="220.7" cy="354.9" r="1.9"/><circle cx="222.5" cy="389.8" r="1.9"/><circle cx="222.8" cy="371.1" r="1.9"/><circle cx="210.5" cy="363.9" r="1.9"/><circle cx="269.8" cy="376.9" r="1.9"/><circle cx="280.7" cy="364.8" r="1.9"/><circle cx="253.6" cy="387.9" r="1.9"/><circle cx="260.5" cy="378.2" r="1.9"/><circle cx="240.5" cy="388.8" r="1.9"/><circle cx="275.6" cy="368.8" r="1.9"/><circle cx="244.3" cy="375.5" r="1.9"/><circle cx="239.1" cy="384.3" r="1.9"/><circle cx="234.9" cy="385.6" r="1.9"/><circle cx="257.6" cy="385.6" r="1.9"/><circle cx="260.3" cy="375.8" r="1.9"/><circle cx="226.1" cy="377.4" r="1.9"/><circle cx="229.9" cy="381.4" r="1.9"/><circle cx="232.1" cy="379.3" r="1.9"/><circle cx="245.5" cy="373.2" r="1.9"/><circle cx="264.5" cy="366.9" r="1.9"/><circle cx="234.4" cy="390.2" r="1.9"/><circle cx="244.2" cy="387.3" r="1.9"/><circle cx="277.3" cy="376.4" r="1.9"/><circle cx="277.6" cy="365.5" r="1.9"/><circle cx="254.3" cy="378.1" r="1.9"/><circle cx="231.2" cy="376.0" r="1.9"/><circle cx="234.0" cy="378.1" r="1.9"/><circle cx="254.9" cy="373.0" r="1.9"/><circle cx="236.1" cy="374.1" r="1.9"/><circle cx="238.6" cy="388.1" r="1.9"/><circle cx="224.9" cy="390.3" r="1.9"/><circle cx="253.8" cy="385.7" r="1.9"/><circle cx="258.8" cy="382.7" r="1.9"/><circle cx="238.0" cy="384.5" r="1.9"/><circle cx="225.9" cy="373.8" r="1.9"/><circle cx="255.6" cy="370.8" r="1.9"/><circle cx="278.3" cy="364.5" r="1.9"/><circle cx="259.3" cy="369.0" r="1.9"/><circle cx="260.3" cy="385.5" r="1.9"/><circle cx="239.0" cy="380.0" r="1.9"/><circle cx="284.0" cy="363.2" r="1.9"/><circle cx="261.7" cy="382.8" r="1.9"/><circle cx="273.7" cy="372.3" r="1.9"/><circle cx="273.4" cy="375.9" r="1.9"/><circle cx="281.4" cy="374.4" r="1.9"/><circle cx="238.9" cy="384.0" r="1.9"/><circle cx="265.4" cy="366.5" r="1.9"/><circle cx="253.3" cy="376.9" r="1.9"/><circle cx="269.8" cy="381.1" r="1.9"/><circle cx="236.1" cy="380.8" r="1.9"/><circle cx="275.6" cy="385.6" r="1.9"/><circle cx="229.6" cy="383.5" r="1.9"/><circle cx="282.9" cy="382.2" r="1.9"/><circle cx="269.5" cy="366.0" r="1.9"/><circle cx="279.2" cy="384.3" r="1.9"/><circle cx="274.8" cy="386.1" r="1.9"/><circle cx="260.0" cy="375.1" r="1.9"/><circle cx="274.3" cy="385.5" r="1.9"/><circle cx="277.1" cy="371.0" r="1.9"/><circle cx="282.6" cy="378.0" r="1.9"/><circle cx="281.7" cy="365.5" r="1.9"/><circle cx="239.4" cy="387.2" r="1.9"/><circle cx="251.9" cy="369.1" r="1.9"/><circle cx="265.8" cy="383.3" r="1.9"/><circle cx="247.9" cy="385.5" r="1.9"/><circle cx="272.4" cy="382.5" r="1.9"/><circle cx="263.8" cy="387.1" r="1.9"/><circle cx="244.7" cy="379.8" r="1.9"/><circle cx="275.0" cy="385.8" r="1.9"/><circle cx="224.3" cy="376.7" r="1.9"/><circle cx="273.6" cy="374.6" r="1.9"/><circle cx="260.9" cy="375.7" r="1.9"/><circle cx="245.6" cy="387.3" r="1.9"/><circle cx="261.8" cy="370.8" r="1.9"/><circle cx="266.8" cy="375.3" r="1.9"/><circle cx="264.3" cy="386.2" r="1.9"/><circle cx="231.4" cy="382.5" r="1.9"/><circle cx="226.5" cy="386.7" r="1.9"/><circle cx="282.4" cy="372.9" r="1.9"/><circle cx="237.7" cy="388.7" r="1.9"/><circle cx="248.1" cy="377.0" r="1.9"/><circle cx="282.3" cy="377.2" r="1.9"/><circle cx="284.3" cy="367.7" r="1.9"/><circle cx="274.7" cy="366.9" r="1.9"/><circle cx="234.7" cy="390.4" r="1.9"/><circle cx="251.7" cy="386.3" r="1.9"/><circle cx="239.3" cy="372.6" r="1.9"/><circle cx="230.2" cy="378.6" r="1.9"/><circle cx="276.6" cy="377.4" r="1.9"/><circle cx="278.5" cy="382.0" r="1.9"/><circle cx="228.6" cy="380.7" r="1.9"/><circle cx="246.1" cy="381.8" r="1.9"/><circle cx="262.5" cy="373.3" r="1.9"/><circle cx="255.9" cy="382.3" r="1.9"/><circle cx="279.3" cy="376.9" r="1.9"/><circle cx="227.5" cy="387.0" r="1.9"/><circle cx="265.7" cy="378.7" r="1.9"/><circle cx="251.3" cy="384.5" r="1.9"/><circle cx="278.4" cy="383.9" r="1.9"/><circle cx="232.8" cy="379.6" r="1.9"/><circle cx="247.9" cy="384.4" r="1.9"/><circle cx="263.1" cy="370.4" r="1.9"/><circle cx="270.5" cy="370.7" r="1.9"/><circle cx="257.2" cy="374.6" r="1.9"/><circle cx="283.7" cy="381.5" r="1.9"/><circle cx="273.1" cy="382.3" r="1.9"/><circle cx="267.3" cy="382.7" r="1.9"/><circle cx="259.1" cy="386.8" r="1.9"/><circle cx="272.4" cy="372.4" r="1.9"/><circle cx="219.2" cy="344.3" r="1.9"/><circle cx="241.3" cy="338.6" r="1.9"/><circle cx="237.2" cy="338.7" r="1.9"/><circle cx="223.9" cy="342.1" r="1.9"/><circle cx="243.3" cy="339.2" r="1.9"/><circle cx="224.6" cy="343.0" r="1.9"/><circle cx="226.8" cy="342.2" r="1.9"/><circle cx="243.9" cy="340.3" r="1.9"/><circle cx="221.1" cy="350.5" r="1.9"/><circle cx="237.7" cy="343.5" r="1.9"/><circle cx="231.8" cy="346.7" r="1.9"/><circle cx="237.6" cy="340.4" r="1.9"/><circle cx="230.9" cy="340.6" r="1.9"/><circle cx="233.9" cy="340.2" r="1.9"/><circle cx="239.8" cy="345.1" r="1.9"/><circle cx="217.1" cy="344.8" r="1.9"/><circle cx="227.4" cy="348.9" r="1.9"/><circle cx="234.0" cy="347.1" r="1.9"/><circle cx="238.2" cy="342.3" r="1.9"/><circle cx="225.3" cy="342.3" r="1.9"/><circle cx="217.2" cy="364.7" r="1.9"/><circle cx="192.4" cy="386.6" r="1.9"/><circle cx="206.3" cy="371.9" r="1.9"/><circle cx="211.8" cy="387.9" r="1.9"/><circle cx="190.3" cy="364.2" r="1.9"/><circle cx="187.6" cy="367.4" r="1.9"/><circle cx="205.1" cy="385.8" r="1.9"/><circle cx="211.7" cy="374.3" r="1.9"/><circle cx="201.1" cy="374.1" r="1.9"/><circle cx="196.0" cy="385.5" r="1.9"/><circle cx="216.5" cy="385.2" r="1.9"/><circle cx="191.0" cy="378.2" r="1.9"/><circle cx="215.2" cy="371.0" r="1.9"/><circle cx="220.9" cy="387.8" r="1.9"/><circle cx="214.7" cy="384.5" r="1.9"/><circle cx="211.0" cy="386.9" r="1.9"/><circle cx="190.3" cy="379.6" r="1.9"/><circle cx="213.2" cy="375.7" r="1.9"/><circle cx="209.1" cy="384.6" r="1.9"/><circle cx="195.9" cy="358.9" r="1.9"/><circle cx="212.0" cy="390.9" r="1.9"/><circle cx="217.1" cy="365.1" r="1.9"/><circle cx="213.0" cy="353.0" r="1.9"/><circle cx="218.5" cy="363.7" r="1.9"/><circle cx="185.1" cy="376.4" r="1.9"/><circle cx="190.6" cy="361.6" r="1.9"/><circle cx="187.4" cy="368.7" r="1.9"/><circle cx="207.2" cy="383.9" r="1.9"/><circle cx="186.6" cy="384.8" r="1.9"/><circle cx="189.4" cy="359.4" r="1.9"/><circle cx="210.2" cy="364.3" r="1.9"/><circle cx="198.2" cy="373.9" r="1.9"/><circle cx="193.7" cy="383.3" r="1.9"/><circle cx="193.4" cy="385.3" r="1.9"/><circle cx="217.3" cy="372.6" r="1.9"/><circle cx="186.2" cy="382.7" r="1.9"/><circle cx="186.1" cy="371.2" r="1.9"/><circle cx="210.2" cy="380.4" r="1.9"/><circle cx="208.4" cy="366.8" r="1.9"/><circle cx="205.5" cy="374.7" r="1.9"/><circle cx="194.1" cy="386.4" r="1.9"/><circle cx="224.8" cy="383.8" r="1.9"/><circle cx="223.5" cy="363.8" r="1.9"/><circle cx="224.5" cy="353.0" r="1.9"/><circle cx="204.1" cy="355.6" r="1.9"/><circle cx="203.2" cy="378.7" r="1.9"/><circle cx="213.3" cy="369.1" r="1.9"/><circle cx="198.7" cy="358.0" r="1.9"/><circle cx="201.1" cy="361.9" r="1.9"/><circle cx="192.8" cy="380.9" r="1.9"/><circle cx="205.6" cy="368.4" r="1.9"/><circle cx="192.9" cy="379.6" r="1.9"/><circle cx="192.9" cy="361.2" r="1.9"/><circle cx="207.4" cy="379.5" r="1.9"/><circle cx="223.9" cy="381.4" r="1.9"/><circle cx="184.0" cy="389.6" r="1.9"/><circle cx="179.5" cy="383.6" r="1.9"/><circle cx="166.3" cy="368.2" r="1.9"/><circle cx="165.3" cy="387.9" r="1.9"/><circle cx="179.4" cy="380.9" r="1.9"/><circle cx="170.3" cy="372.7" r="1.9"/><circle cx="168.3" cy="381.0" r="1.9"/><circle cx="184.8" cy="371.2" r="1.9"/><circle cx="172.1" cy="389.0" r="1.9"/><circle cx="181.1" cy="375.7" r="1.9"/><circle cx="168.1" cy="385.3" r="1.9"/><circle cx="174.4" cy="391.7" r="1.9"/>
</g>
<path d="M61.6 457.5L317.0 324.3" stroke="#2e2e2e" stroke-width="1.7" stroke-dasharray="15 8.3" fill="none"/>
<path d="M392.6 457.5H685.0M392.6 438.4H685.0M392.6 419.4H685.0M392.6 400.4H685.0M392.6 381.3H685.0M392.6 362.3H685.0M392.6 343.3H685.0M392.6 324.3H685.0M420.6 314.7V476.7M457.1 314.7V476.7M493.6 314.7V476.7M530.1 314.7V476.7M566.6 314.7V476.7M603.0 314.7V476.7M639.5 314.7V476.7M676.0 314.7V476.7" stroke="#dfdfdf" stroke-width="1.5" fill="none"/>
<path d="M392.6 314.7V476.7H685.0" stroke="#1e1e1e" stroke-width="1.35" fill="none"/>
<path d="M386.9 457.5H392.6M420.6 476.7V482.6M386.9 438.4H392.6M457.1 476.7V482.6M386.9 419.4H392.6M493.6 476.7V482.6M386.9 400.4H392.6M530.1 476.7V482.6M386.9 381.3H392.6M566.6 476.7V482.6M386.9 362.3H392.6M603.0 476.7V482.6M386.9 343.3H392.6M639.5 476.7V482.6M386.9 324.3H392.6M676.0 476.7V482.6" stroke="#1e1e1e" stroke-width="1.35" fill="none"/>
<text transform="translate(420.6 492.1) scale(0.87 1)" font-size="10.0" fill="#000" text-anchor="middle">-.4</text>
<text transform="translate(457.1 492.1) scale(0.87 1)" font-size="10.0" fill="#000" text-anchor="middle">-.2</text>
<text transform="translate(493.6 492.1) scale(0.87 1)" font-size="10.0" fill="#000" text-anchor="middle">0</text>
<text transform="translate(530.1 492.1) scale(0.87 1)" font-size="10.0" fill="#000" text-anchor="middle">.2</text>
<text transform="translate(566.6 492.1) scale(0.87 1)" font-size="10.0" fill="#000" text-anchor="middle">.4</text>
<text transform="translate(603.0 492.1) scale(0.87 1)" font-size="10.0" fill="#000" text-anchor="middle">.6</text>
<text transform="translate(639.5 492.1) scale(0.87 1)" font-size="10.0" fill="#000" text-anchor="middle">.8</text>
<text transform="translate(676.0 492.1) scale(0.87 1)" font-size="10.0" fill="#000" text-anchor="middle">1</text>
<text transform="translate(381.0 457.5) rotate(-90) scale(0.87 1)" font-size="10.0" fill="#000" text-anchor="middle">-.4</text>
<text transform="translate(381.0 438.4) rotate(-90) scale(0.87 1)" font-size="10.0" fill="#000" text-anchor="middle">-.2</text>
<text transform="translate(381.0 419.4) rotate(-90) scale(0.87 1)" font-size="10.0" fill="#000" text-anchor="middle">0</text>
<text transform="translate(381.0 400.4) rotate(-90) scale(0.87 1)" font-size="10.0" fill="#000" text-anchor="middle">.2</text>
<text transform="translate(381.0 381.3) rotate(-90) scale(0.87 1)" font-size="10.0" fill="#000" text-anchor="middle">.4</text>
<text transform="translate(381.0 362.3) rotate(-90) scale(0.87 1)" font-size="10.0" fill="#000" text-anchor="middle">.6</text>
<text transform="translate(381.0 343.3) rotate(-90) scale(0.87 1)" font-size="10.0" fill="#000" text-anchor="middle">.8</text>
<text transform="translate(381.0 324.3) rotate(-90) scale(0.87 1)" font-size="10.0" fill="#000" text-anchor="middle">1</text>
<text x="538.8" y="504.5" font-size="12.1" fill="#000" text-anchor="middle">Observed EQ-5D utility</text>
<text transform="translate(369.5 395.7) rotate(-90)" font-size="12.15" fill="#000" text-anchor="middle">Predicted EQ-5D utility</text>
<path d="M420.6 457.5L676.0 324.3" stroke="#2e2e2e" stroke-width="1.7" stroke-dasharray="15 8.3" fill="none"/>
<path d="M540.9 358.4V396.0" stroke="#8a8a8a" stroke-width="1.4"/>
<path d="M536.9 358.4H544.9M536.9 396.0H544.9" stroke="#8a8a8a" stroke-width="1.3"/>
<path d="M540.9 365.6V385.9" stroke="#6e6e6e" stroke-width="2.0"/>
<path d="M537.6 365.6H544.2M537.6 385.9H544.2" stroke="#4e4e4e" stroke-width="2.7" stroke-linecap="round"/>
<circle cx="540.9" cy="377.0" r="2.55" fill="#000"/>
<path d="M597.8 352.4V382.4" stroke="#8a8a8a" stroke-width="1.4"/>
<path d="M593.8 352.4H601.8M593.8 382.4H601.8" stroke="#8a8a8a" stroke-width="1.3"/>
<path d="M597.8 356.6V372.5" stroke="#6e6e6e" stroke-width="2.0"/>
<path d="M594.5 356.6H601.1M594.5 372.5H601.1" stroke="#4e4e4e" stroke-width="2.7" stroke-linecap="round"/>
<circle cx="597.8" cy="364.0" r="2.55" fill="#000"/>
<path d="M622.6 344.8V375.7" stroke="#8a8a8a" stroke-width="1.4"/>
<path d="M618.6 344.8H626.6M618.6 375.7H626.6" stroke="#8a8a8a" stroke-width="1.3"/>
<path d="M622.6 350.0V364.5" stroke="#6e6e6e" stroke-width="2.0"/>
<path d="M619.3 350.0H625.9M619.3 364.5H625.9" stroke="#4e4e4e" stroke-width="2.7" stroke-linecap="round"/>
<circle cx="622.6" cy="356.4" r="2.55" fill="#000"/>
<path d="M652.2 340.5V364.9" stroke="#8a8a8a" stroke-width="1.4"/>
<path d="M648.2 340.5H656.2M648.2 364.9H656.2" stroke="#8a8a8a" stroke-width="1.3"/>
<path d="M652.2 344.3V356.0" stroke="#6e6e6e" stroke-width="2.0"/>
<path d="M648.9 344.3H655.5M648.9 356.0H655.5" stroke="#4e4e4e" stroke-width="2.7" stroke-linecap="round"/>
<circle cx="652.2" cy="349.6" r="2.55" fill="#000"/>
<text x="342.4" y="567.9" font-size="16.2" fill="#25315d" text-anchor="middle">Validation dataset: Proxy-rated QoL-AD mapped to proxy-rated EQ-5D</text>
<path d="M33.6 733.7H327.0M33.6 714.6H327.0M33.6 695.6H327.0M33.6 676.6H327.0M33.6 657.5H327.0M33.6 638.5H327.0M33.6 619.5H327.0M33.6 600.5H327.0M61.6 590.9V752.9M98.1 590.9V752.9M134.6 590.9V752.9M171.1 590.9V752.9M207.6 590.9V752.9M244.0 590.9V752.9M280.5 590.9V752.9M317.0 590.9V752.9" stroke="#dfdfdf" stroke-width="1.5" fill="none"/>
<path d="M33.6 590.9V752.9H327.0" stroke="#1e1e1e" stroke-width="1.35" fill="none"/>
<path d="M27.9 733.7H33.6M61.6 752.9V758.8M27.9 714.6H33.6M98.1 752.9V758.8M27.9 695.6H33.6M134.6 752.9V758.8M27.9 676.6H33.6M171.1 752.9V758.8M27.9 657.5H33.6M207.6 752.9V758.8M27.9 638.5H33.6M244.0 752.9V758.8M27.9 619.5H33.6M280.5 752.9V758.8M27.9 600.5H33.6M317.0 752.9V758.8" stroke="#1e1e1e" stroke-width="1.35" fill="none"/>
<text transform="translate(61.6 768.3) scale(0.87 1)" font-size="10.0" fill="#000" text-anchor="middle">-.4</text>
<text transform="translate(98.1 768.3) scale(0.87 1)" font-size="10.0" fill="#000" text-anchor="middle">-.2</text>
<text transform="translate(134.6 768.3) scale(0.87 1)" font-size="10.0" fill="#000" text-anchor="middle">0</text>
<text transform="translate(171.1 768.3) scale(0.87 1)" font-size="10.0" fill="#000" text-anchor="middle">.2</text>
<text transform="translate(207.6 768.3) scale(0.87 1)" font-size="10.0" fill="#000" text-anchor="middle">.4</text>
<text transform="translate(244.0 768.3) scale(0.87 1)" font-size="10.0" fill="#000" text-anchor="middle">.6</text>
<text transform="translate(280.5 768.3) scale(0.87 1)" font-size="10.0" fill="#000" text-anchor="middle">.8</text>
<text transform="translate(317.0 768.3) scale(0.87 1)" font-size="10.0" fill="#000" text-anchor="middle">1</text>
<text transform="translate(22.0 733.7) rotate(-90) scale(0.87 1)" font-size="10.0" fill="#000" text-anchor="middle">-.4</text>
<text transform="translate(22.0 714.6) rotate(-90) scale(0.87 1)" font-size="10.0" fill="#000" text-anchor="middle">-.2</text>
<text transform="translate(22.0 695.6) rotate(-90) scale(0.87 1)" font-size="10.0" fill="#000" text-anchor="middle">0</text>
<text transform="translate(22.0 676.6) rotate(-90) scale(0.87 1)" font-size="10.0" fill="#000" text-anchor="middle">.2</text>
<text transform="translate(22.0 657.5) rotate(-90) scale(0.87 1)" font-size="10.0" fill="#000" text-anchor="middle">.4</text>
<text transform="translate(22.0 638.5) rotate(-90) scale(0.87 1)" font-size="10.0" fill="#000" text-anchor="middle">.6</text>
<text transform="translate(22.0 619.5) rotate(-90) scale(0.87 1)" font-size="10.0" fill="#000" text-anchor="middle">.8</text>
<text transform="translate(22.0 600.5) rotate(-90) scale(0.87 1)" font-size="10.0" fill="#000" text-anchor="middle">1</text>
<text x="180.3" y="780.7" font-size="12.1" fill="#000" text-anchor="middle">Observed EQ-5D utility</text>
<text transform="translate(10.5 671.9) rotate(-90)" font-size="12.15" fill="#000" text-anchor="middle">Predicted EQ-5D utility</text>
<g fill="#000" fill-opacity="0.45">
<circle cx="176.3" cy="618.8" r="1.9"/><circle cx="138.5" cy="627.3" r="1.9"/><circle cx="144.6" cy="627.3" r="1.9"/><circle cx="144.4" cy="632.2" r="1.9"/><circle cx="150.5" cy="634.8" r="1.9"/><circle cx="157.2" cy="632.2" r="1.9"/><circle cx="168.6" cy="631.4" r="1.9"/><circle cx="168.6" cy="634.8" r="1.9"/><circle cx="138.9" cy="641.1" r="1.9"/><circle cx="126.6" cy="647.4" r="1.9"/><circle cx="149.0" cy="647.6" r="1.9"/><circle cx="151.4" cy="649.7" r="1.9"/><circle cx="149.0" cy="652.7" r="1.9"/><circle cx="138.9" cy="654.7" r="1.9"/><circle cx="149.6" cy="657.4" r="1.9"/><circle cx="161.9" cy="644.1" r="1.9"/><circle cx="163.6" cy="645.3" r="1.9"/><circle cx="168.9" cy="642.9" r="1.9"/><circle cx="168.9" cy="645.9" r="1.9"/><circle cx="169.7" cy="660.5" r="1.9"/><circle cx="162.1" cy="662.8" r="1.9"/><circle cx="168.9" cy="673.4" r="1.9"/><circle cx="117.3" cy="691.2" r="1.9"/><circle cx="180.0" cy="638.4" r="1.9"/><circle cx="180.0" cy="648.5" r="1.9"/><circle cx="180.0" cy="665.8" r="1.9"/><circle cx="195.1" cy="623.2" r="1.9"/><circle cx="203.6" cy="623.2" r="1.9"/><circle cx="204.4" cy="626.4" r="1.9"/><circle cx="210.0" cy="625.4" r="1.9"/><circle cx="181.7" cy="627.5" r="1.9"/><circle cx="184.9" cy="630.4" r="1.9"/><circle cx="182.6" cy="632.8" r="1.9"/><circle cx="191.4" cy="635.7" r="1.9"/><circle cx="210.0" cy="634.5" r="1.9"/><circle cx="204.4" cy="636.9" r="1.9"/><circle cx="204.4" cy="639.8" r="1.9"/><circle cx="181.4" cy="638.6" r="1.9"/><circle cx="184.6" cy="642.1" r="1.9"/><circle cx="181.4" cy="648.3" r="1.9"/><circle cx="184.3" cy="652.6" r="1.9"/><circle cx="182.0" cy="654.4" r="1.9"/><circle cx="184.6" cy="655.0" r="1.9"/><circle cx="217.0" cy="640.6" r="1.9"/><circle cx="222.9" cy="639.8" r="1.9"/><circle cx="222.9" cy="624.0" r="1.9"/><circle cx="223.5" cy="628.5" r="1.9"/><circle cx="204.0" cy="656.7" r="1.9"/><circle cx="182.0" cy="678.6" r="1.9"/><circle cx="228.7" cy="624.6" r="1.9"/><circle cx="228.7" cy="666.6" r="1.9"/><circle cx="228.7" cy="677.2" r="1.9"/><circle cx="228.7" cy="690.4" r="1.9"/><circle cx="241.6" cy="624.2" r="1.9"/><circle cx="241.6" cy="629.3" r="1.9"/><circle cx="241.6" cy="631.6" r="1.9"/><circle cx="241.6" cy="638.0" r="1.9"/><circle cx="241.6" cy="644.5" r="1.9"/><circle cx="241.6" cy="647.1" r="1.9"/><circle cx="241.6" cy="654.7" r="1.9"/><circle cx="247.6" cy="646.6" r="1.9"/><circle cx="247.6" cy="661.0" r="1.9"/><circle cx="247.6" cy="678.1" r="1.9"/><circle cx="260.2" cy="615.2" r="1.9"/><circle cx="260.2" cy="619.9" r="1.9"/><circle cx="260.2" cy="653.1" r="1.9"/><circle cx="260.2" cy="661.0" r="1.9"/><circle cx="260.2" cy="687.4" r="1.9"/><circle cx="263.9" cy="644.4" r="1.9"/><circle cx="263.9" cy="647.9" r="1.9"/><circle cx="263.9" cy="649.6" r="1.9"/><circle cx="263.9" cy="654.9" r="1.9"/><circle cx="273.0" cy="617.5" r="1.9"/><circle cx="273.0" cy="642.0" r="1.9"/><circle cx="273.0" cy="649.0" r="1.9"/><circle cx="273.0" cy="653.1" r="1.9"/><circle cx="273.0" cy="654.9" r="1.9"/><circle cx="270.1" cy="649.0" r="1.9"/><circle cx="270.1" cy="653.1" r="1.9"/><circle cx="280.0" cy="652.0" r="1.9"/><circle cx="282.6" cy="646.7" r="1.9"/><circle cx="282.6" cy="649.6" r="1.9"/><circle cx="282.6" cy="659.0" r="1.9"/><circle cx="289.4" cy="610.3" r="1.9"/><circle cx="289.4" cy="641.5" r="1.9"/><circle cx="289.4" cy="657.0" r="1.9"/><circle cx="295.6" cy="643.8" r="1.9"/><circle cx="317.2" cy="649.0" r="1.9"/><circle cx="317.2" cy="672.4" r="1.9"/><circle cx="228.9" cy="629.5" r="1.9"/><circle cx="228.7" cy="631.4" r="1.9"/><circle cx="228.6" cy="632.9" r="1.9"/><circle cx="228.7" cy="635.1" r="1.9"/><circle cx="228.6" cy="637.9" r="1.9"/><circle cx="228.5" cy="639.8" r="1.9"/><circle cx="228.8" cy="641.4" r="1.9"/><circle cx="228.9" cy="642.6" r="1.9"/><circle cx="228.8" cy="644.1" r="1.9"/><circle cx="228.8" cy="645.9" r="1.9"/><circle cx="228.6" cy="647.0" r="1.9"/><circle cx="228.6" cy="648.9" r="1.9"/><circle cx="228.7" cy="650.1" r="1.9"/><circle cx="228.8" cy="652.1" r="1.9"/><circle cx="228.7" cy="653.2" r="1.9"/><circle cx="228.9" cy="655.0" r="1.9"/><circle cx="247.3" cy="626.3" r="1.9"/><circle cx="247.7" cy="627.4" r="1.9"/><circle cx="247.6" cy="627.9" r="1.9"/><circle cx="247.4" cy="628.4" r="1.9"/><circle cx="247.8" cy="629.2" r="1.9"/><circle cx="247.4" cy="630.1" r="1.9"/><circle cx="247.4" cy="630.6" r="1.9"/><circle cx="247.6" cy="631.5" r="1.9"/><circle cx="247.7" cy="632.3" r="1.9"/><circle cx="247.6" cy="632.7" r="1.9"/><circle cx="247.7" cy="633.4" r="1.9"/><circle cx="247.6" cy="634.3" r="1.9"/><circle cx="247.7" cy="635.3" r="1.9"/><circle cx="247.4" cy="636.0" r="1.9"/><circle cx="247.7" cy="636.6" r="1.9"/><circle cx="247.4" cy="637.6" r="1.9"/><circle cx="247.7" cy="637.8" r="1.9"/><circle cx="247.4" cy="639.1" r="1.9"/><circle cx="247.4" cy="639.4" r="1.9"/><circle cx="254.6" cy="621.3" r="1.9"/><circle cx="254.5" cy="622.2" r="1.9"/><circle cx="254.0" cy="622.7" r="1.9"/><circle cx="254.8" cy="624.0" r="1.9"/><circle cx="254.0" cy="624.5" r="1.9"/><circle cx="254.2" cy="625.9" r="1.9"/><circle cx="254.2" cy="626.7" r="1.9"/><circle cx="254.7" cy="627.6" r="1.9"/><circle cx="254.7" cy="628.3" r="1.9"/><circle cx="254.1" cy="629.0" r="1.9"/><circle cx="254.6" cy="630.0" r="1.9"/><circle cx="254.8" cy="631.3" r="1.9"/><circle cx="254.1" cy="632.2" r="1.9"/><circle cx="254.1" cy="633.0" r="1.9"/><circle cx="254.1" cy="634.0" r="1.9"/><circle cx="254.7" cy="635.0" r="1.9"/><circle cx="254.0" cy="635.9" r="1.9"/><circle cx="260.2" cy="624.7" r="1.9"/><circle cx="260.2" cy="625.4" r="1.9"/><circle cx="260.3" cy="626.3" r="1.9"/><circle cx="259.9" cy="626.7" r="1.9"/><circle cx="260.2" cy="627.6" r="1.9"/><circle cx="260.1" cy="628.3" r="1.9"/><circle cx="260.4" cy="629.1" r="1.9"/><circle cx="260.5" cy="630.4" r="1.9"/><circle cx="260.2" cy="630.8" r="1.9"/><circle cx="260.3" cy="631.7" r="1.9"/><circle cx="260.1" cy="632.4" r="1.9"/><circle cx="260.6" cy="633.5" r="1.9"/><circle cx="260.1" cy="634.0" r="1.9"/><circle cx="260.4" cy="635.3" r="1.9"/><circle cx="260.5" cy="635.7" r="1.9"/><circle cx="260.1" cy="636.6" r="1.9"/><circle cx="260.4" cy="637.3" r="1.9"/><circle cx="260.3" cy="638.6" r="1.9"/><circle cx="260.4" cy="638.9" r="1.9"/><circle cx="259.9" cy="639.8" r="1.9"/><circle cx="260.4" cy="640.9" r="1.9"/><circle cx="260.2" cy="641.6" r="1.9"/><circle cx="260.1" cy="642.5" r="1.9"/><circle cx="260.3" cy="643.5" r="1.9"/><circle cx="260.4" cy="644.2" r="1.9"/><circle cx="260.5" cy="645.1" r="1.9"/><circle cx="260.4" cy="645.4" r="1.9"/><circle cx="260.3" cy="646.7" r="1.9"/><circle cx="260.1" cy="647.6" r="1.9"/><circle cx="259.9" cy="648.4" r="1.9"/><circle cx="260.2" cy="649.1" r="1.9"/><circle cx="260.0" cy="649.7" r="1.9"/><circle cx="260.1" cy="650.5" r="1.9"/><circle cx="259.9" cy="651.4" r="1.9"/><circle cx="267.4" cy="615.3" r="1.9"/><circle cx="267.3" cy="616.2" r="1.9"/><circle cx="267.3" cy="617.1" r="1.9"/><circle cx="267.2" cy="617.5" r="1.9"/><circle cx="266.8" cy="618.4" r="1.9"/><circle cx="266.6" cy="619.1" r="1.9"/><circle cx="267.3" cy="620.3" r="1.9"/><circle cx="266.9" cy="621.0" r="1.9"/><circle cx="267.2" cy="621.9" r="1.9"/><circle cx="267.2" cy="622.5" r="1.9"/><circle cx="266.7" cy="623.5" r="1.9"/><circle cx="266.9" cy="624.2" r="1.9"/><circle cx="266.9" cy="625.0" r="1.9"/><circle cx="267.4" cy="625.6" r="1.9"/><circle cx="267.0" cy="626.7" r="1.9"/><circle cx="267.0" cy="627.6" r="1.9"/><circle cx="266.9" cy="628.4" r="1.9"/><circle cx="267.2" cy="629.3" r="1.9"/><circle cx="266.7" cy="629.6" r="1.9"/><circle cx="266.8" cy="630.9" r="1.9"/><circle cx="266.6" cy="631.3" r="1.9"/><circle cx="267.2" cy="632.5" r="1.9"/><circle cx="266.7" cy="633.0" r="1.9"/><circle cx="267.1" cy="634.0" r="1.9"/><circle cx="267.2" cy="634.8" r="1.9"/><circle cx="266.8" cy="635.4" r="1.9"/><circle cx="266.6" cy="636.4" r="1.9"/><circle cx="266.8" cy="637.0" r="1.9"/><circle cx="267.4" cy="638.0" r="1.9"/><circle cx="267.1" cy="638.8" r="1.9"/><circle cx="267.1" cy="639.7" r="1.9"/><circle cx="266.8" cy="640.1" r="1.9"/><circle cx="266.7" cy="640.9" r="1.9"/><circle cx="266.9" cy="641.8" r="1.9"/><circle cx="272.7" cy="623.4" r="1.9"/><circle cx="273.4" cy="624.9" r="1.9"/><circle cx="272.8" cy="626.3" r="1.9"/><circle cx="272.7" cy="627.3" r="1.9"/><circle cx="272.8" cy="628.8" r="1.9"/><circle cx="273.2" cy="630.2" r="1.9"/><circle cx="273.2" cy="631.4" r="1.9"/><circle cx="273.3" cy="632.9" r="1.9"/><circle cx="273.3" cy="634.1" r="1.9"/><circle cx="273.3" cy="635.6" r="1.9"/><circle cx="273.3" cy="637.3" r="1.9"/><circle cx="273.1" cy="638.4" r="1.9"/><circle cx="276.1" cy="622.8" r="1.9"/><circle cx="276.8" cy="624.8" r="1.9"/><circle cx="276.6" cy="627.1" r="1.9"/><circle cx="276.6" cy="628.8" r="1.9"/><circle cx="276.2" cy="630.8" r="1.9"/><circle cx="276.9" cy="632.9" r="1.9"/><circle cx="276.6" cy="635.0" r="1.9"/><circle cx="276.3" cy="636.7" r="1.9"/><circle cx="279.6" cy="611.9" r="1.9"/><circle cx="279.7" cy="612.7" r="1.9"/><circle cx="279.9" cy="613.2" r="1.9"/><circle cx="279.7" cy="614.0" r="1.9"/><circle cx="279.8" cy="614.4" r="1.9"/><circle cx="280.0" cy="615.0" r="1.9"/><circle cx="279.8" cy="616.1" r="1.9"/><circle cx="279.8" cy="616.5" r="1.9"/><circle cx="280.2" cy="617.1" r="1.9"/><circle cx="279.8" cy="617.8" r="1.9"/><circle cx="279.9" cy="618.6" r="1.9"/><circle cx="280.1" cy="619.4" r="1.9"/><circle cx="280.3" cy="619.8" r="1.9"/><circle cx="280.1" cy="621.0" r="1.9"/><circle cx="279.8" cy="621.2" r="1.9"/><circle cx="280.0" cy="622.0" r="1.9"/><circle cx="280.0" cy="623.0" r="1.9"/><circle cx="279.7" cy="623.4" r="1.9"/><circle cx="280.0" cy="624.1" r="1.9"/><circle cx="279.8" cy="625.0" r="1.9"/><circle cx="279.7" cy="625.4" r="1.9"/><circle cx="279.9" cy="626.4" r="1.9"/><circle cx="280.3" cy="627.1" r="1.9"/><circle cx="279.7" cy="627.6" r="1.9"/><circle cx="280.2" cy="628.5" r="1.9"/><circle cx="280.3" cy="629.5" r="1.9"/><circle cx="280.3" cy="629.7" r="1.9"/><circle cx="280.4" cy="630.6" r="1.9"/><circle cx="279.8" cy="631.1" r="1.9"/><circle cx="280.3" cy="631.8" r="1.9"/><circle cx="279.7" cy="632.6" r="1.9"/><circle cx="280.3" cy="633.4" r="1.9"/><circle cx="280.2" cy="633.8" r="1.9"/><circle cx="280.0" cy="634.7" r="1.9"/><circle cx="279.8" cy="635.6" r="1.9"/><circle cx="279.9" cy="636.0" r="1.9"/><circle cx="280.4" cy="636.9" r="1.9"/><circle cx="279.7" cy="637.3" r="1.9"/><circle cx="280.1" cy="638.3" r="1.9"/><circle cx="279.6" cy="639.0" r="1.9"/><circle cx="280.2" cy="639.7" r="1.9"/><circle cx="282.4" cy="617.5" r="1.9"/><circle cx="282.7" cy="618.4" r="1.9"/><circle cx="282.3" cy="619.3" r="1.9"/><circle cx="283.0" cy="620.1" r="1.9"/><circle cx="282.9" cy="620.7" r="1.9"/><circle cx="282.9" cy="621.4" r="1.9"/><circle cx="282.4" cy="622.5" r="1.9"/><circle cx="282.9" cy="623.0" r="1.9"/><circle cx="282.4" cy="623.8" r="1.9"/><circle cx="282.6" cy="624.7" r="1.9"/><circle cx="282.4" cy="625.9" r="1.9"/><circle cx="282.7" cy="626.8" r="1.9"/><circle cx="282.5" cy="627.5" r="1.9"/><circle cx="282.2" cy="628.5" r="1.9"/><circle cx="282.4" cy="629.0" r="1.9"/><circle cx="282.6" cy="630.1" r="1.9"/><circle cx="282.6" cy="631.0" r="1.9"/><circle cx="282.7" cy="631.3" r="1.9"/><circle cx="282.9" cy="632.1" r="1.9"/><circle cx="283.0" cy="633.1" r="1.9"/><circle cx="282.4" cy="634.2" r="1.9"/><circle cx="282.5" cy="634.7" r="1.9"/><circle cx="282.5" cy="635.7" r="1.9"/><circle cx="282.2" cy="636.3" r="1.9"/><circle cx="282.3" cy="637.4" r="1.9"/><circle cx="282.2" cy="638.1" r="1.9"/><circle cx="282.4" cy="638.9" r="1.9"/><circle cx="282.6" cy="639.8" r="1.9"/><circle cx="289.2" cy="613.8" r="1.9"/><circle cx="289.2" cy="615.0" r="1.9"/><circle cx="289.2" cy="615.2" r="1.9"/><circle cx="289.4" cy="616.2" r="1.9"/><circle cx="289.6" cy="616.6" r="1.9"/><circle cx="289.2" cy="617.3" r="1.9"/><circle cx="289.5" cy="618.2" r="1.9"/><circle cx="289.3" cy="619.2" r="1.9"/><circle cx="289.5" cy="619.9" r="1.9"/><circle cx="289.7" cy="620.2" r="1.9"/><circle cx="289.7" cy="621.0" r="1.9"/><circle cx="289.1" cy="622.0" r="1.9"/><circle cx="289.2" cy="622.2" r="1.9"/><circle cx="289.3" cy="623.1" r="1.9"/><circle cx="289.7" cy="624.1" r="1.9"/><circle cx="289.4" cy="624.7" r="1.9"/><circle cx="289.6" cy="625.5" r="1.9"/><circle cx="289.5" cy="626.1" r="1.9"/><circle cx="289.2" cy="626.6" r="1.9"/><circle cx="289.5" cy="627.5" r="1.9"/><circle cx="289.6" cy="628.4" r="1.9"/><circle cx="289.7" cy="628.7" r="1.9"/><circle cx="289.1" cy="629.8" r="1.9"/><circle cx="289.4" cy="630.1" r="1.9"/><circle cx="289.5" cy="630.9" r="1.9"/><circle cx="289.2" cy="631.6" r="1.9"/><circle cx="289.4" cy="632.5" r="1.9"/><circle cx="289.1" cy="633.3" r="1.9"/><circle cx="289.5" cy="633.8" r="1.9"/><circle cx="289.5" cy="634.7" r="1.9"/><circle cx="289.1" cy="635.3" r="1.9"/><circle cx="289.5" cy="636.1" r="1.9"/><circle cx="289.5" cy="636.5" r="1.9"/><circle cx="289.7" cy="637.6" r="1.9"/><circle cx="295.4" cy="613.4" r="1.9"/><circle cx="295.9" cy="613.9" r="1.9"/><circle cx="295.5" cy="615.1" r="1.9"/><circle cx="295.8" cy="615.4" r="1.9"/><circle cx="295.7" cy="616.2" r="1.9"/><circle cx="295.7" cy="617.1" r="1.9"/><circle cx="295.4" cy="617.5" r="1.9"/><circle cx="295.4" cy="618.3" r="1.9"/><circle cx="295.3" cy="618.9" r="1.9"/><circle cx="295.5" cy="619.8" r="1.9"/><circle cx="295.3" cy="620.6" r="1.9"/><circle cx="295.9" cy="621.3" r="1.9"/><circle cx="295.5" cy="622.1" r="1.9"/><circle cx="295.6" cy="622.5" r="1.9"/><circle cx="295.6" cy="623.2" r="1.9"/><circle cx="295.7" cy="624.0" r="1.9"/><circle cx="295.5" cy="625.2" r="1.9"/><circle cx="295.8" cy="625.8" r="1.9"/><circle cx="295.7" cy="626.4" r="1.9"/><circle cx="295.7" cy="627.3" r="1.9"/><circle cx="295.4" cy="627.9" r="1.9"/><circle cx="295.5" cy="628.3" r="1.9"/><circle cx="295.8" cy="629.2" r="1.9"/><circle cx="295.8" cy="630.1" r="1.9"/><circle cx="295.7" cy="630.4" r="1.9"/><circle cx="295.3" cy="631.3" r="1.9"/><circle cx="295.7" cy="631.9" r="1.9"/><circle cx="295.3" cy="632.5" r="1.9"/><circle cx="295.4" cy="633.6" r="1.9"/><circle cx="295.3" cy="634.0" r="1.9"/><circle cx="295.5" cy="635.0" r="1.9"/><circle cx="295.9" cy="635.3" r="1.9"/><circle cx="295.4" cy="636.6" r="1.9"/><circle cx="295.9" cy="636.9" r="1.9"/><circle cx="295.5" cy="637.8" r="1.9"/><circle cx="295.5" cy="638.5" r="1.9"/><circle cx="317.2" cy="606.9" r="1.9"/><circle cx="317.1" cy="607.4" r="1.9"/><circle cx="317.1" cy="608.0" r="1.9"/><circle cx="317.2" cy="608.9" r="1.9"/><circle cx="317.1" cy="609.6" r="1.9"/><circle cx="317.3" cy="609.9" r="1.9"/><circle cx="317.2" cy="610.5" r="1.9"/><circle cx="317.3" cy="611.3" r="1.9"/><circle cx="317.1" cy="611.7" r="1.9"/><circle cx="317.3" cy="612.4" r="1.9"/><circle cx="317.3" cy="612.9" r="1.9"/><circle cx="317.3" cy="613.9" r="1.9"/><circle cx="317.1" cy="614.3" r="1.9"/><circle cx="317.1" cy="615.0" r="1.9"/><circle cx="317.3" cy="615.7" r="1.9"/><circle cx="317.1" cy="615.9" r="1.9"/><circle cx="317.2" cy="616.8" r="1.9"/><circle cx="317.1" cy="617.2" r="1.9"/><circle cx="317.2" cy="617.7" r="1.9"/><circle cx="317.2" cy="618.4" r="1.9"/><circle cx="317.1" cy="619.1" r="1.9"/><circle cx="317.2" cy="619.9" r="1.9"/><circle cx="317.1" cy="620.5" r="1.9"/><circle cx="317.1" cy="620.9" r="1.9"/><circle cx="317.2" cy="621.7" r="1.9"/><circle cx="317.2" cy="622.4" r="1.9"/><circle cx="317.1" cy="622.7" r="1.9"/><circle cx="317.2" cy="623.3" r="1.9"/><circle cx="317.1" cy="623.9" r="1.9"/><circle cx="317.3" cy="624.8" r="1.9"/><circle cx="317.3" cy="625.5" r="1.9"/><circle cx="317.3" cy="625.7" r="1.9"/><circle cx="317.1" cy="626.6" r="1.9"/><circle cx="317.1" cy="627.1" r="1.9"/><circle cx="317.1" cy="627.4" r="1.9"/><circle cx="317.2" cy="628.1" r="1.9"/><circle cx="317.3" cy="629.1" r="1.9"/><circle cx="317.2" cy="629.3" r="1.9"/><circle cx="317.1" cy="630.1" r="1.9"/><circle cx="317.2" cy="630.6" r="1.9"/><circle cx="317.3" cy="631.3" r="1.9"/><circle cx="317.3" cy="631.7" r="1.9"/><circle cx="317.1" cy="632.5" r="1.9"/><circle cx="317.2" cy="633.0" r="1.9"/><circle cx="317.3" cy="633.6" r="1.9"/><circle cx="317.1" cy="634.3" r="1.9"/><circle cx="317.3" cy="635.1" r="1.9"/><circle cx="317.2" cy="635.5" r="1.9"/><circle cx="317.3" cy="636.4" r="1.9"/><circle cx="317.2" cy="636.6" r="1.9"/><circle cx="317.2" cy="637.5" r="1.9"/><circle cx="263.7" cy="625.7" r="1.9"/><circle cx="264.3" cy="628.9" r="1.9"/><circle cx="263.6" cy="631.3" r="1.9"/><circle cx="264.0" cy="633.9" r="1.9"/><circle cx="263.6" cy="636.8" r="1.9"/><circle cx="264.1" cy="639.3" r="1.9"/><circle cx="263.6" cy="641.9" r="1.9"/>
</g>
<path d="M61.6 733.7L317.0 600.5" stroke="#2e2e2e" stroke-width="1.7" stroke-dasharray="15 8.3" fill="none"/>
<path d="M392.6 733.7H685.0M392.6 714.6H685.0M392.6 695.6H685.0M392.6 676.6H685.0M392.6 657.5H685.0M392.6 638.5H685.0M392.6 619.5H685.0M392.6 600.5H685.0M420.6 590.9V752.9M457.1 590.9V752.9M493.6 590.9V752.9M530.1 590.9V752.9M566.6 590.9V752.9M603.0 590.9V752.9M639.5 590.9V752.9M676.0 590.9V752.9" stroke="#dfdfdf" stroke-width="1.5" fill="none"/>
<path d="M392.6 590.9V752.9H685.0" stroke="#1e1e1e" stroke-width="1.35" fill="none"/>
<path d="M386.9 733.7H392.6M420.6 752.9V758.8M386.9 714.6H392.6M457.1 752.9V758.8M386.9 695.6H392.6M493.6 752.9V758.8M386.9 676.6H392.6M530.1 752.9V758.8M386.9 657.5H392.6M566.6 752.9V758.8M386.9 638.5H392.6M603.0 752.9V758.8M386.9 619.5H392.6M639.5 752.9V758.8M386.9 600.5H392.6M676.0 752.9V758.8" stroke="#1e1e1e" stroke-width="1.35" fill="none"/>
<text transform="translate(420.6 768.3) scale(0.87 1)" font-size="10.0" fill="#000" text-anchor="middle">-.4</text>
<text transform="translate(457.1 768.3) scale(0.87 1)" font-size="10.0" fill="#000" text-anchor="middle">-.2</text>
<text transform="translate(493.6 768.3) scale(0.87 1)" font-size="10.0" fill="#000" text-anchor="middle">0</text>
<text transform="translate(530.1 768.3) scale(0.87 1)" font-size="10.0" fill="#000" text-anchor="middle">.2</text>
<text transform="translate(566.6 768.3) scale(0.87 1)" font-size="10.0" fill="#000" text-anchor="middle">.4</text>
<text transform="translate(603.0 768.3) scale(0.87 1)" font-size="10.0" fill="#000" text-anchor="middle">.6</text>
<text transform="translate(639.5 768.3) scale(0.87 1)" font-size="10.0" fill="#000" text-anchor="middle">.8</text>
<text transform="translate(676.0 768.3) scale(0.87 1)" font-size="10.0" fill="#000" text-anchor="middle">1</text>
<text transform="translate(381.0 733.7) rotate(-90) scale(0.87 1)" font-size="10.0" fill="#000" text-anchor="middle">-.4</text>
<text transform="translate(381.0 714.6) rotate(-90) scale(0.87 1)" font-size="10.0" fill="#000" text-anchor="middle">-.2</text>
<text transform="translate(381.0 695.6) rotate(-90) scale(0.87 1)" font-size="10.0" fill="#000" text-anchor="middle">0</text>
<text transform="translate(381.0 676.6) rotate(-90) scale(0.87 1)" font-size="10.0" fill="#000" text-anchor="middle">.2</text>
<text transform="translate(381.0 657.5) rotate(-90) scale(0.87 1)" font-size="10.0" fill="#000" text-anchor="middle">.4</text>
<text transform="translate(381.0 638.5) rotate(-90) scale(0.87 1)" font-size="10.0" fill="#000" text-anchor="middle">.6</text>
<text transform="translate(381.0 619.5) rotate(-90) scale(0.87 1)" font-size="10.0" fill="#000" text-anchor="middle">.8</text>
<text transform="translate(381.0 600.5) rotate(-90) scale(0.87 1)" font-size="10.0" fill="#000" text-anchor="middle">1</text>
<text x="538.8" y="780.7" font-size="12.1" fill="#000" text-anchor="middle">Observed EQ-5D utility</text>
<text transform="translate(369.5 671.9) rotate(-90)" font-size="12.15" fill="#000" text-anchor="middle">Predicted EQ-5D utility</text>
<path d="M420.6 733.7L676.0 600.5" stroke="#2e2e2e" stroke-width="1.7" stroke-dasharray="15 8.3" fill="none"/>
<path d="M584.3 626.9V655.1" stroke="#8a8a8a" stroke-width="1.4"/>
<path d="M580.3 626.9H588.3M580.3 655.1H588.3" stroke="#8a8a8a" stroke-width="1.3"/>
<path d="M584.3 630.9V646.2" stroke="#6e6e6e" stroke-width="2.0"/>
<path d="M581.0 630.9H587.6M581.0 646.2H587.6" stroke="#4e4e4e" stroke-width="2.7" stroke-linecap="round"/>
<circle cx="584.3" cy="635.8" r="2.55" fill="#000"/>
<path d="M633.7 619.0V639.7" stroke="#8a8a8a" stroke-width="1.4"/>
<path d="M629.7 619.0H637.7M629.7 639.7H637.7" stroke="#8a8a8a" stroke-width="1.3"/>
<path d="M633.7 623.6V633.9" stroke="#6e6e6e" stroke-width="2.0"/>
<path d="M630.4 623.6H637.0M630.4 633.9H637.0" stroke="#4e4e4e" stroke-width="2.7" stroke-linecap="round"/>
<circle cx="633.7" cy="629.2" r="2.55" fill="#000"/>
<path d="M650.0 618.9V634.5" stroke="#8a8a8a" stroke-width="1.4"/>
<path d="M646.0 618.9H654.0M646.0 634.5H654.0" stroke="#8a8a8a" stroke-width="1.3"/>
<path d="M650.0 620.2V631.2" stroke="#6e6e6e" stroke-width="2.0"/>
<path d="M646.8 620.2H653.3M646.8 631.2H653.3" stroke="#4e4e4e" stroke-width="2.7" stroke-linecap="round"/>
<circle cx="650.0" cy="625.6" r="2.55" fill="#000"/>
<path d="M675.5 614.9V629.7" stroke="#8a8a8a" stroke-width="1.4"/>
<path d="M671.5 614.9H679.5M671.5 629.7H679.5" stroke="#8a8a8a" stroke-width="1.3"/>
<path d="M675.5 617.1V626.3" stroke="#6e6e6e" stroke-width="2.0"/>
<path d="M672.2 617.1H678.8M672.2 626.3H678.8" stroke="#4e4e4e" stroke-width="2.7" stroke-linecap="round"/>
<circle cx="675.5" cy="620.6" r="2.55" fill="#000"/>
</g></svg></body></html>
